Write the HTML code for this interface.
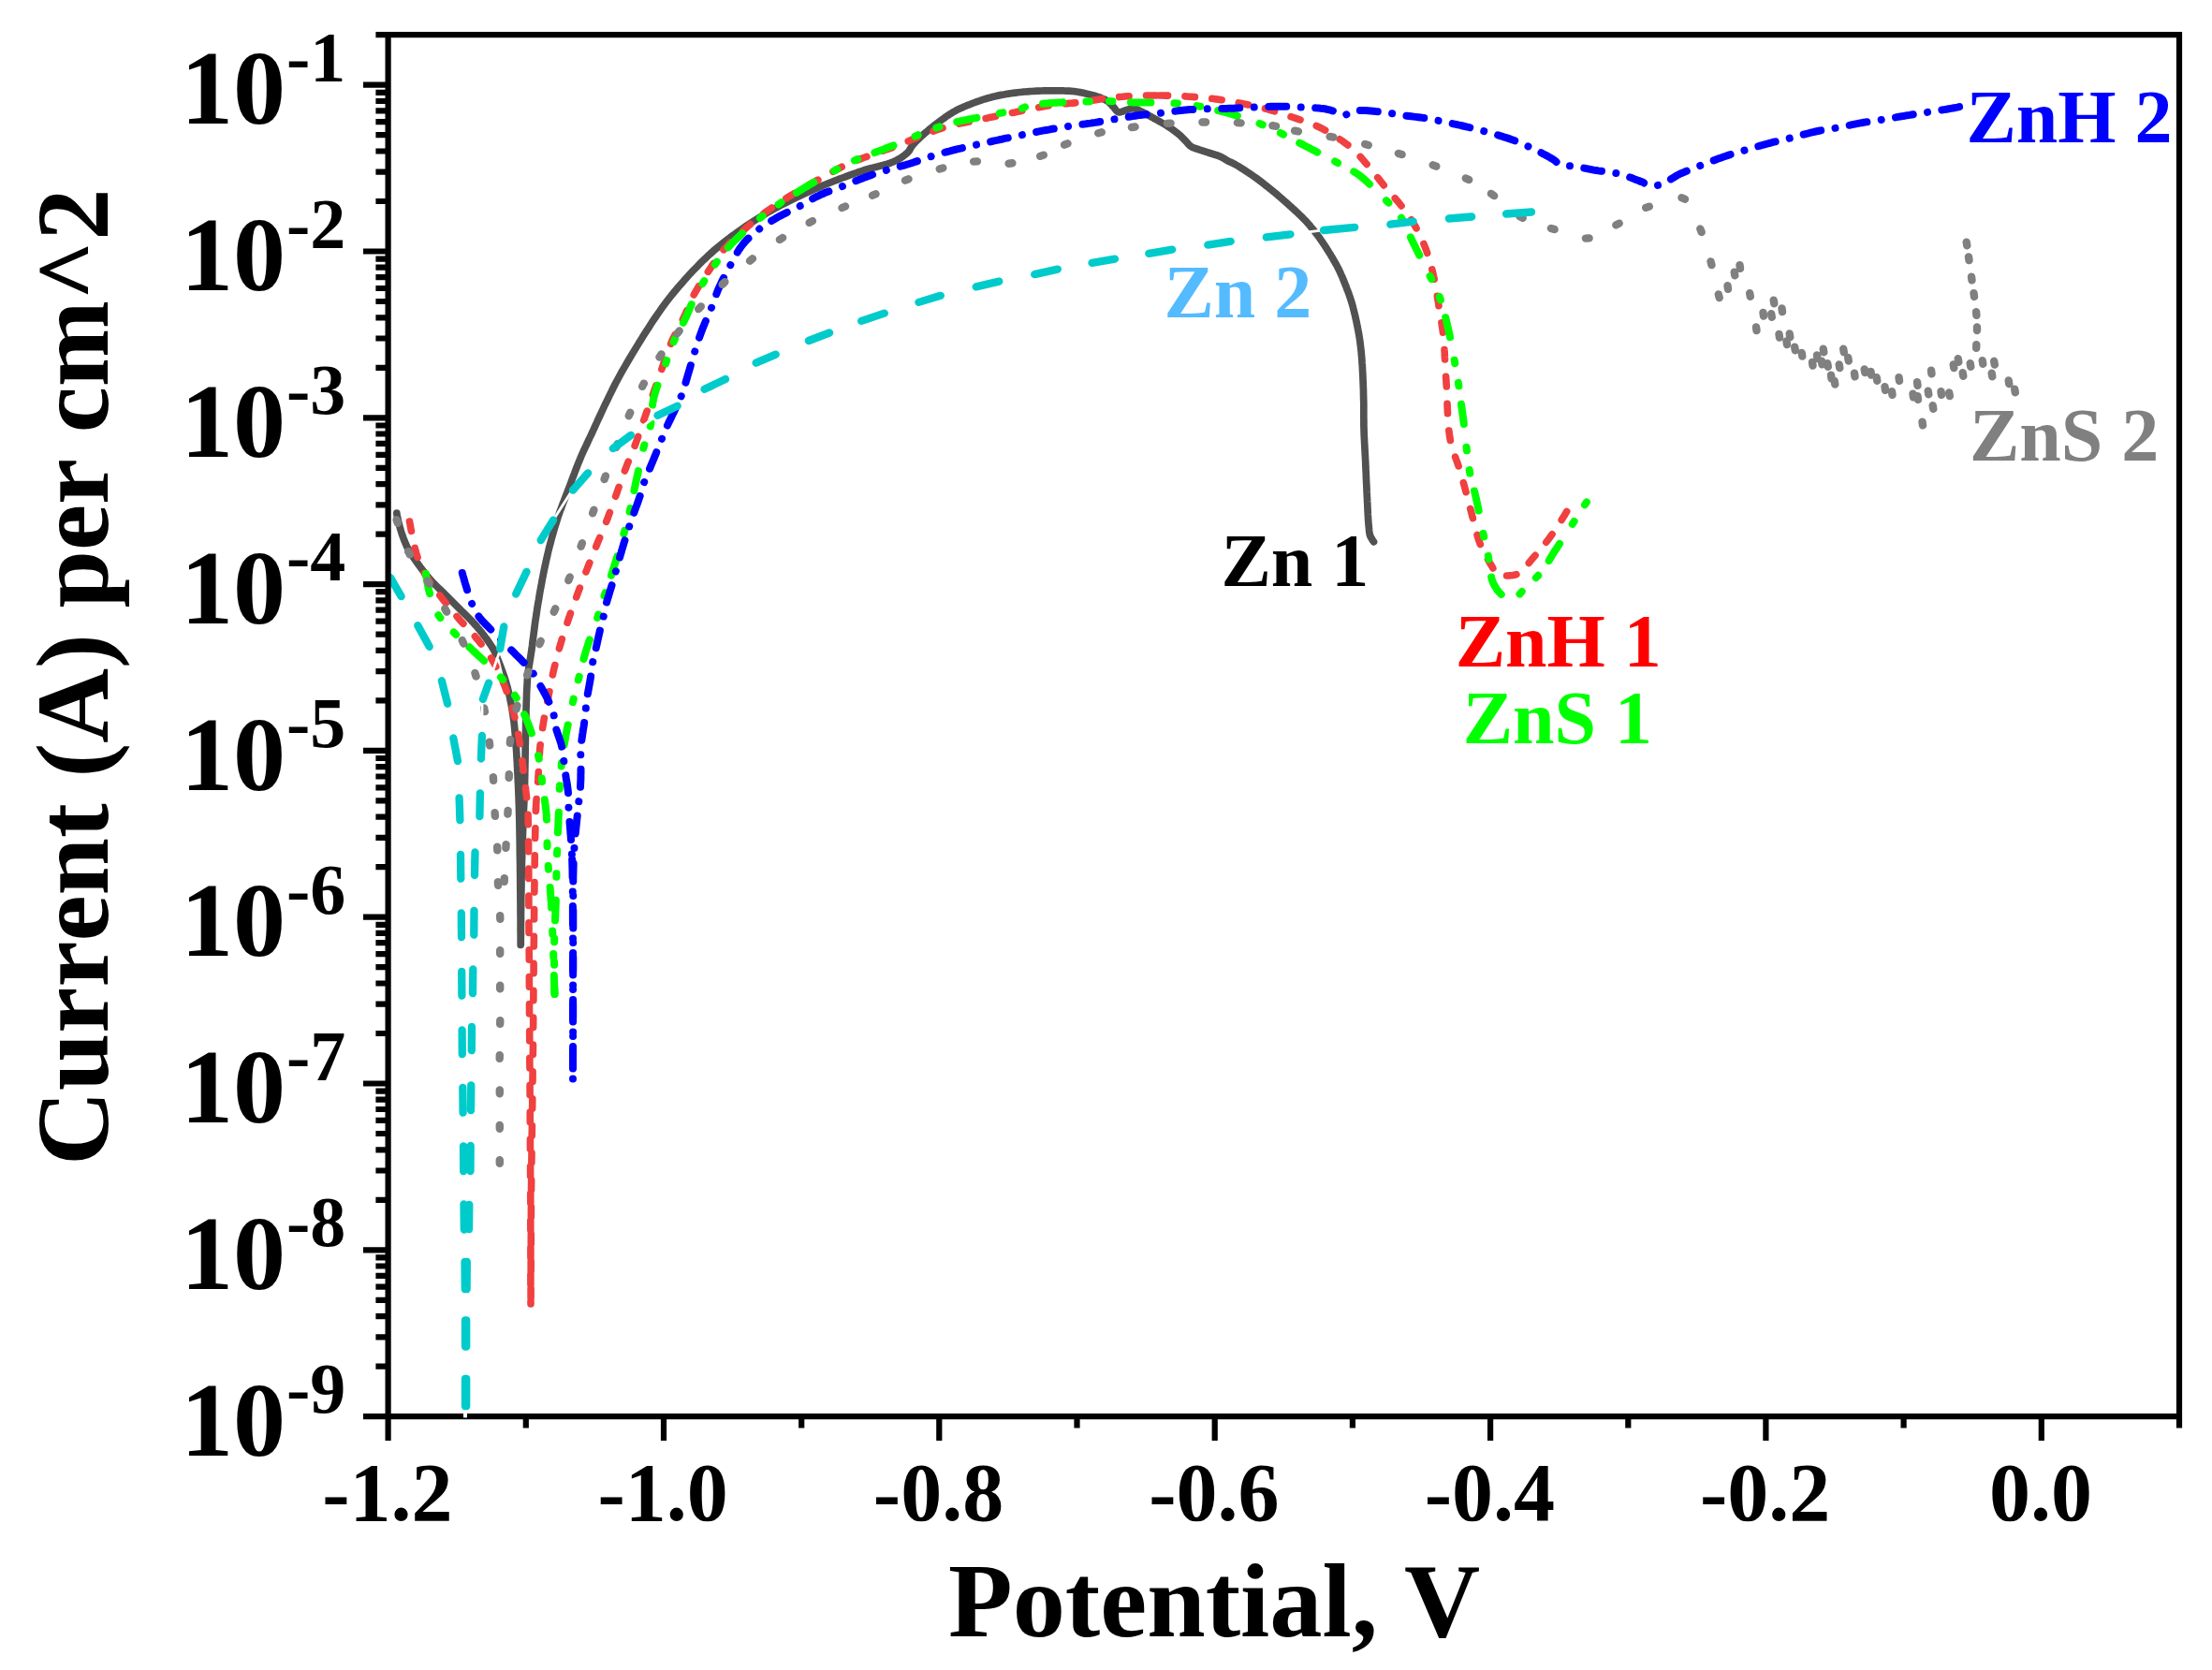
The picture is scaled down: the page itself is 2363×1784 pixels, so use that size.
<!DOCTYPE html>
<html><head><meta charset="utf-8"><title>Polarization curves</title>
<style>html,body{margin:0;padding:0;background:#fff;overflow:hidden}svg{display:block}text{font-kerning:none;font-variant-ligatures:none}</style></head>
<body>
<svg width="2363" height="1784" viewBox="0 0 2363 1784">
<rect width="2363" height="1784" fill="#fff"/>
<g id="curves">
<path d="M423.8,548.2 L423.8,548.6 L424.0,549.4 L424.2,550.7 L424.6,552.3 L425.0,554.3 L425.4,556.3 L425.9,558.5 L426.5,560.6 L427.0,562.7 L427.5,564.5 L428.1,566.4 L428.7,568.4 L429.4,570.4 L430.1,572.5 L430.8,574.5 L431.6,576.6 L432.4,578.6 L433.2,580.6 L434.1,582.6 L435.0,584.5 L436.0,586.3 L437.0,588.2 L438.0,589.9 L439.1,591.7 L440.3,593.4 L441.4,595.1 L442.6,596.9 L443.8,598.6 L445.0,600.3 L446.2,602.0 L447.5,603.8 L448.8,605.6 L450.2,607.4 L451.5,609.1 L452.9,610.9 L454.3,612.7 L455.7,614.4 L457.1,616.1 L458.5,617.8 L460.0,619.5 L461.4,621.1 L462.9,622.6 L464.4,624.2 L465.9,625.6 L467.4,627.1 L468.9,628.6 L470.5,630.1 L472.0,631.5 L473.5,633.0 L475.0,634.5 L476.5,636.0 L478.0,637.5 L479.5,639.0 L481.0,640.5 L482.5,642.0 L484.0,643.5 L485.5,645.0 L487.0,646.5 L488.5,648.0 L490.0,649.5 L491.5,651.0 L493.0,652.5 L494.6,654.0 L496.1,655.5 L497.6,657.0 L499.1,658.5 L500.6,660.0 L502.1,661.5 L503.6,663.0 L505.0,664.5 L506.3,666.0 L507.7,667.5 L509.0,668.9 L510.2,670.4 L511.5,671.9 L512.7,673.4 L514.0,674.9 L515.2,676.5 L516.3,678.0 L517.5,679.5 L518.6,681.0 L519.7,682.5 L520.8,683.9 L521.8,685.4 L522.8,686.9 L523.8,688.4 L524.8,689.9 L525.8,691.4 L526.7,693.0 L527.5,694.5 L528.3,696.0 L529.0,697.4 L529.6,698.9 L530.2,700.4 L530.8,701.9 L531.4,703.4 L532.0,704.9 L532.6,706.4 L533.2,707.9 L533.8,709.5 L534.4,711.2 L535.1,712.9 L535.7,714.6 L536.4,716.3 L537.0,718.1 L537.6,719.8 L538.2,721.6 L538.9,723.4 L539.4,725.2 L540.0,727.0 L540.6,728.9 L541.1,730.9 L541.7,732.8 L542.2,734.8 L542.7,736.8 L543.2,738.8 L543.7,740.8 L544.1,742.9 L544.6,744.9 L545.0,747.0 L545.4,749.2 L545.9,751.4 L546.3,753.6 L546.7,755.8 L547.1,758.0 L547.4,760.3 L547.8,762.5 L548.1,764.8 L548.4,767.1 L548.8,769.5 L549.1,772.1 L549.4,774.8 L549.7,777.5 L549.9,780.2 L550.2,783.0 L550.4,785.8 L550.6,788.6 L550.8,791.4 L551.0,794.2 L551.2,797.0 L551.5,799.9 L551.7,802.9 L551.9,805.8 L552.0,808.8 L552.2,811.7 L552.4,814.7 L552.5,817.7 L552.7,820.8 L552.8,823.9 L553.0,827.0 L553.2,830.5 L553.3,834.0 L553.5,837.6 L553.7,841.2 L553.8,844.8 L554.0,848.5 L554.1,852.2 L554.2,856.0 L554.4,860.0 L554.5,864.0 L554.6,869.1 L554.8,874.5 L554.9,880.0 L555.0,885.7 L555.1,891.5 L555.2,897.3 L555.3,903.1 L555.3,908.8 L555.4,914.5 L555.5,920.0 L555.6,925.1 L555.6,930.3 L555.7,935.4 L555.7,940.5 L555.8,945.5 L555.8,950.6 L555.9,955.5 L555.9,960.4 L556.0,965.3 L556.0,970.0 L556.0,974.5 L556.1,979.5 L556.1,984.7 L556.1,989.9 L556.1,995.0 L556.2,999.6 L556.2,1003.6 L556.2,1006.7 L556.2,1008.8 L556.2,1009.5 L556.3,1008.8 L556.3,1006.7 L556.3,1003.6 L556.4,999.6 L556.4,995.0 L556.4,989.9 L556.5,984.7 L556.5,979.5 L556.5,974.5 L556.6,970.0 L556.7,965.3 L556.7,960.4 L556.8,955.5 L556.9,950.6 L557.0,945.5 L557.0,940.5 L557.1,935.4 L557.2,930.3 L557.4,925.1 L557.5,920.0 L557.7,914.4 L557.8,908.5 L558.0,902.4 L558.3,896.3 L558.5,890.2 L558.7,884.2 L558.9,878.5 L559.1,873.2 L559.3,868.3 L559.5,864.0 L559.6,861.9 L559.7,860.1 L559.8,858.5 L559.8,856.9 L559.9,855.4 L560.0,854.0 L560.1,852.4 L560.2,850.8 L560.2,849.0 L560.3,847.0 L560.4,843.0 L560.5,838.6 L560.6,833.7 L560.7,828.6 L560.8,823.2 L560.9,817.7 L561.0,812.3 L561.1,807.0 L561.2,801.8 L561.2,797.0 L561.3,793.0 L561.4,789.2 L561.4,785.4 L561.5,781.6 L561.6,777.9 L561.6,774.2 L561.7,770.6 L561.8,766.9 L561.9,763.2 L562.0,759.5 L562.1,755.7 L562.2,751.9 L562.4,748.0 L562.5,744.1 L562.6,740.3 L562.8,736.4 L563.0,732.7 L563.2,729.0 L563.4,725.4 L563.8,722.0 L564.0,719.3 L564.4,716.7 L564.7,714.3 L565.1,711.9 L565.5,709.5 L565.9,707.1 L566.3,704.7 L566.7,702.2 L567.1,699.7 L567.5,697.0 L568.0,693.6 L568.5,690.0 L568.9,686.3 L569.4,682.5 L569.9,678.7 L570.4,674.9 L570.9,671.0 L571.4,667.1 L571.9,663.3 L572.5,659.5 L573.1,655.7 L573.6,652.0 L574.2,648.2 L574.8,644.4 L575.5,640.7 L576.1,636.9 L576.7,633.1 L577.4,629.4 L578.1,625.7 L578.8,622.0 L579.4,618.4 L580.1,614.9 L580.8,611.4 L581.5,607.9 L582.3,604.4 L583.0,600.9 L583.8,597.4 L584.6,594.0 L585.4,590.5 L586.2,587.0 L587.1,583.5 L588.1,579.9 L589.0,576.4 L590.0,572.8 L591.0,569.3 L592.0,565.8 L593.0,562.3 L594.1,558.8 L595.2,555.4 L596.2,552.0 L597.3,548.9 L598.4,545.8 L599.5,542.8 L600.6,539.9 L601.7,536.9 L602.9,534.0 L604.0,531.0 L605.2,528.0 L606.3,525.0 L607.5,522.0 L608.7,518.8 L609.9,515.6 L611.1,512.3 L612.3,509.1 L613.6,505.8 L614.8,502.5 L616.1,499.3 L617.3,496.0 L618.7,492.7 L620.0,489.5 L621.4,486.1 L623.0,482.7 L624.6,479.1 L626.3,475.6 L627.9,472.1 L629.5,468.6 L631.1,465.4 L632.5,462.3 L633.8,459.5 L635.0,457.0 L635.5,455.8 L636.0,454.7 L636.4,453.8 L636.8,452.9 L637.2,452.1 L637.6,451.2 L638.0,450.3 L638.4,449.3 L638.9,448.2 L639.5,447.0 L640.9,444.0 L642.6,440.4 L644.4,436.5 L646.4,432.2 L648.6,427.8 L650.8,423.1 L653.1,418.5 L655.4,413.8 L657.7,409.3 L660.0,405.0 L662.3,400.7 L664.7,396.4 L667.2,392.1 L669.7,387.8 L672.2,383.5 L674.7,379.2 L677.3,375.0 L679.9,370.8 L682.4,366.6 L685.0,362.5 L687.4,358.6 L689.9,354.7 L692.4,350.9 L694.8,347.0 L697.3,343.2 L699.8,339.5 L702.3,335.8 L704.9,332.1 L707.4,328.5 L710.0,325.0 L712.4,321.8 L714.9,318.6 L717.3,315.5 L719.8,312.5 L722.3,309.5 L724.8,306.5 L727.4,303.6 L729.9,300.7 L732.4,297.8 L735.0,295.0 L737.4,292.3 L739.9,289.7 L742.4,287.1 L744.9,284.6 L747.3,282.0 L749.8,279.5 L752.4,277.1 L754.9,274.7 L757.4,272.3 L760.0,270.0 L762.4,267.8 L764.9,265.7 L767.3,263.7 L769.8,261.7 L772.2,259.7 L774.7,257.7 L777.2,255.8 L779.8,253.9 L782.4,251.9 L785.0,250.0 L787.9,247.9 L790.8,245.9 L793.7,243.8 L796.7,241.7 L799.7,239.7 L802.8,237.7 L805.8,235.7 L808.9,233.8 L811.9,231.9 L815.0,230.0 L818.0,228.2 L820.9,226.5 L823.9,224.8 L826.9,223.2 L829.9,221.5 L832.9,219.9 L835.9,218.4 L839.0,216.8 L842.0,215.3 L845.0,213.8 L848.0,212.3 L851.0,210.8 L854.0,209.4 L857.1,208.0 L860.1,206.6 L863.2,205.2 L866.2,203.8 L869.1,202.5 L872.1,201.3 L875.0,200.0 L877.6,198.9 L880.1,197.8 L882.6,196.8 L885.1,195.8 L887.6,194.8 L890.1,193.8 L892.5,192.8 L895.0,191.9 L897.5,190.9 L900.0,190.0 L902.5,189.1 L905.0,188.1 L907.5,187.2 L910.0,186.3 L912.5,185.4 L915.0,184.6 L917.5,183.7 L920.0,182.9 L922.5,182.0 L925.0,181.2 L927.5,180.5 L930.2,179.8 L932.8,179.1 L935.5,178.4 L938.2,177.8 L940.8,177.1 L943.3,176.5 L945.7,175.8 L948.0,175.2 L950.0,174.5 L951.2,174.1 L952.3,173.6 L953.4,173.2 L954.4,172.8 L955.3,172.4 L956.3,172.0 L957.2,171.5 L958.1,171.1 L959.0,170.5 L960.0,170.0 L961.0,169.4 L962.1,168.7 L963.2,168.0 L964.3,167.3 L965.3,166.5 L966.4,165.7 L967.3,164.9 L968.3,164.1 L969.2,163.3 L970.0,162.5 L970.6,161.8 L971.2,161.1 L971.7,160.3 L972.1,159.6 L972.5,158.8 L973.0,158.1 L973.4,157.3 L973.9,156.5 L974.4,155.8 L975.0,155.0 L975.8,154.0 L976.7,153.1 L977.6,152.1 L978.6,151.1 L979.6,150.1 L980.6,149.1 L981.7,148.1 L982.8,147.0 L983.9,146.0 L985.0,145.0 L986.3,143.8 L987.7,142.5 L989.2,141.3 L990.6,140.1 L992.1,138.8 L993.6,137.5 L995.2,136.3 L996.8,135.0 L998.4,133.7 L1000.0,132.5 L1001.9,131.1 L1003.8,129.7 L1005.7,128.2 L1007.7,126.8 L1009.7,125.3 L1011.8,123.9 L1013.8,122.5 L1015.9,121.2 L1017.9,119.9 L1020.0,118.8 L1022.0,117.7 L1023.9,116.7 L1025.9,115.8 L1027.8,114.9 L1029.8,114.0 L1031.8,113.2 L1033.8,112.3 L1035.9,111.6 L1037.9,110.8 L1040.0,110.0 L1042.2,109.2 L1044.4,108.4 L1046.6,107.7 L1048.8,106.9 L1051.0,106.2 L1053.3,105.5 L1055.6,104.8 L1057.9,104.2 L1060.2,103.6 L1062.5,103.0 L1064.9,102.4 L1067.4,101.9 L1069.9,101.4 L1072.4,101.0 L1074.9,100.5 L1077.4,100.1 L1079.9,99.7 L1082.5,99.4 L1085.0,99.1 L1087.5,98.8 L1090.0,98.5 L1092.5,98.2 L1095.0,98.0 L1097.5,97.8 L1100.0,97.6 L1102.5,97.5 L1105.0,97.3 L1107.5,97.2 L1110.0,97.1 L1112.5,97.0 L1115.0,96.9 L1117.6,96.9 L1120.3,96.8 L1122.9,96.8 L1125.5,96.8 L1128.1,96.8 L1130.6,96.8 L1133.1,96.9 L1135.3,96.9 L1137.5,97.0 L1138.9,97.1 L1140.2,97.1 L1141.5,97.2 L1142.7,97.2 L1143.8,97.3 L1145.0,97.4 L1146.2,97.5 L1147.4,97.6 L1148.7,97.8 L1150.0,98.0 L1151.8,98.3 L1153.8,98.6 L1155.8,99.0 L1157.9,99.4 L1160.0,99.9 L1162.1,100.4 L1164.2,100.9 L1166.2,101.4 L1168.2,101.9 L1170.0,102.5 L1171.5,103.0 L1172.9,103.4 L1174.3,103.9 L1175.7,104.4 L1177.1,105.0 L1178.4,105.5 L1179.6,106.1 L1180.8,106.6 L1182.0,107.3 L1183.0,107.9 L1183.7,108.4 L1184.4,109.0 L1185.1,109.5 L1185.7,110.1 L1186.2,110.7 L1186.8,111.3 L1187.3,111.9 L1187.9,112.5 L1188.4,113.2 L1189.0,113.8 L1189.6,114.4 L1190.2,115.1 L1190.7,115.8 L1191.3,116.6 L1191.8,117.3 L1192.4,118.0 L1193.0,118.6 L1193.6,119.1 L1194.2,119.5 L1194.9,119.8 L1195.5,119.9 L1196.2,119.9 L1196.9,119.8 L1197.6,119.6 L1198.3,119.4 L1199.0,119.1 L1199.8,118.8 L1200.5,118.5 L1201.3,118.2 L1202.0,118.0 L1202.8,117.8 L1203.7,117.5 L1204.6,117.2 L1205.5,116.9 L1206.3,116.6 L1207.2,116.3 L1208.1,116.1 L1209.0,115.9 L1209.9,115.8 L1210.8,115.8 L1211.7,115.9 L1212.6,116.1 L1213.6,116.4 L1214.5,116.8 L1215.4,117.2 L1216.3,117.6 L1217.2,118.1 L1218.2,118.6 L1219.1,119.1 L1220.0,119.5 L1221.0,120.0 L1221.9,120.5 L1222.9,121.0 L1223.9,121.5 L1224.9,122.0 L1225.8,122.6 L1226.8,123.1 L1227.8,123.7 L1228.8,124.3 L1229.8,124.8 L1230.8,125.4 L1231.8,125.9 L1232.8,126.5 L1233.9,127.1 L1234.9,127.6 L1236.0,128.2 L1237.0,128.8 L1238.0,129.4 L1239.0,129.9 L1240.0,130.5 L1240.9,131.0 L1241.8,131.5 L1242.6,132.0 L1243.5,132.5 L1244.4,133.0 L1245.2,133.5 L1246.1,134.0 L1246.9,134.6 L1247.8,135.1 L1248.7,135.7 L1249.8,136.4 L1250.9,137.2 L1252.0,138.0 L1253.2,138.8 L1254.3,139.6 L1255.4,140.4 L1256.5,141.3 L1257.6,142.1 L1258.6,142.9 L1259.6,143.7 L1260.3,144.3 L1261.0,145.0 L1261.7,145.6 L1262.3,146.2 L1262.9,146.9 L1263.5,147.5 L1264.2,148.1 L1264.8,148.7 L1265.4,149.4 L1266.0,150.0 L1266.6,150.7 L1267.3,151.4 L1267.9,152.1 L1268.5,152.8 L1269.1,153.5 L1269.8,154.2 L1270.4,154.9 L1271.1,155.5 L1271.8,156.1 L1272.5,156.6 L1273.2,157.0 L1273.9,157.4 L1274.6,157.7 L1275.4,158.0 L1276.1,158.3 L1276.9,158.5 L1277.6,158.7 L1278.4,159.0 L1279.2,159.2 L1280.0,159.5 L1280.9,159.8 L1281.8,160.1 L1282.7,160.4 L1283.6,160.7 L1284.5,161.0 L1285.5,161.3 L1286.5,161.6 L1287.4,161.9 L1288.5,162.3 L1289.5,162.6 L1290.9,163.0 L1292.4,163.5 L1293.9,164.0 L1295.5,164.5 L1297.1,165.0 L1298.7,165.5 L1300.3,166.0 L1301.8,166.5 L1303.2,167.1 L1304.4,167.6 L1305.2,168.0 L1305.9,168.4 L1306.6,168.8 L1307.2,169.1 L1307.8,169.5 L1308.4,169.9 L1309.1,170.3 L1309.7,170.7 L1310.3,171.1 L1311.0,171.5 L1311.8,171.9 L1312.5,172.3 L1313.3,172.6 L1314.1,173.0 L1314.9,173.3 L1315.7,173.7 L1316.5,174.1 L1317.4,174.5 L1318.3,175.0 L1319.3,175.5 L1321.0,176.5 L1322.8,177.5 L1324.7,178.7 L1326.7,180.0 L1328.8,181.3 L1330.9,182.7 L1333.0,184.1 L1335.1,185.5 L1337.2,186.9 L1339.2,188.3 L1341.2,189.7 L1343.2,191.2 L1345.2,192.7 L1347.2,194.2 L1349.2,195.7 L1351.2,197.3 L1353.2,198.8 L1355.2,200.4 L1357.1,202.0 L1359.1,203.6 L1361.1,205.3 L1363.2,206.9 L1365.2,208.7 L1367.2,210.4 L1369.2,212.1 L1371.2,213.9 L1373.2,215.6 L1375.2,217.4 L1377.1,219.1 L1379.0,220.8 L1380.7,222.4 L1382.4,223.9 L1384.0,225.4 L1385.7,226.9 L1387.3,228.5 L1388.9,230.0 L1390.5,231.5 L1392.0,233.1 L1393.5,234.6 L1395.0,236.2 L1396.4,237.7 L1397.8,239.3 L1399.1,240.8 L1400.4,242.4 L1401.7,243.9 L1403.0,245.5 L1404.3,247.1 L1405.5,248.7 L1406.8,250.3 L1408.0,252.0 L1409.3,253.7 L1410.5,255.5 L1411.8,257.3 L1413.0,259.1 L1414.2,260.9 L1415.4,262.7 L1416.6,264.5 L1417.7,266.4 L1418.9,268.2 L1420.0,270.0 L1421.1,271.7 L1422.1,273.5 L1423.2,275.2 L1424.2,277.0 L1425.2,278.7 L1426.2,280.5 L1427.2,282.2 L1428.2,284.0 L1429.1,285.7 L1430.0,287.5 L1430.8,289.2 L1431.7,291.0 L1432.4,292.7 L1433.2,294.5 L1434.0,296.2 L1434.7,298.0 L1435.4,299.7 L1436.1,301.5 L1436.8,303.2 L1437.5,305.0 L1438.2,306.7 L1438.8,308.5 L1439.5,310.2 L1440.2,311.9 L1440.8,313.6 L1441.4,315.4 L1442.0,317.1 L1442.6,318.9 L1443.2,320.7 L1443.8,322.5 L1444.3,324.4 L1444.9,326.4 L1445.4,328.4 L1445.9,330.4 L1446.4,332.4 L1446.9,334.4 L1447.4,336.4 L1447.9,338.5 L1448.3,340.5 L1448.8,342.5 L1449.2,344.5 L1449.6,346.5 L1450.0,348.5 L1450.4,350.5 L1450.8,352.6 L1451.2,354.6 L1451.5,356.6 L1451.9,358.6 L1452.2,360.5 L1452.5,362.5 L1452.8,364.3 L1453.0,366.0 L1453.2,367.7 L1453.4,369.4 L1453.6,371.1 L1453.8,372.8 L1454.0,374.6 L1454.2,376.3 L1454.3,378.1 L1454.5,380.0 L1454.7,382.3 L1454.9,384.7 L1455.0,387.2 L1455.2,389.7 L1455.4,392.2 L1455.5,394.8 L1455.6,397.4 L1455.8,399.9 L1455.9,402.5 L1456.0,405.0 L1456.1,407.5 L1456.2,410.0 L1456.3,412.5 L1456.4,414.9 L1456.5,417.4 L1456.5,419.9 L1456.6,422.4 L1456.6,424.9 L1456.7,427.5 L1456.8,430.0 L1456.8,432.7 L1456.8,435.3 L1456.8,438.0 L1456.8,440.7 L1456.8,443.4 L1456.8,446.1 L1456.9,448.9 L1456.9,451.7 L1456.9,454.6 L1457.0,457.5 L1457.1,461.0 L1457.2,464.6 L1457.4,468.3 L1457.6,472.1 L1457.8,475.9 L1458.0,479.7 L1458.2,483.6 L1458.4,487.4 L1458.6,491.2 L1458.8,495.0 L1458.9,498.8 L1459.1,502.6 L1459.3,506.4 L1459.4,510.3 L1459.6,514.1 L1459.8,517.9 L1460.0,521.7 L1460.1,525.4 L1460.3,529.0 L1460.5,532.5 L1460.6,535.5 L1460.8,538.4 L1460.9,541.4 L1461.0,544.3 L1461.2,547.2 L1461.3,550.0 L1461.5,552.7 L1461.6,555.3 L1461.8,557.7 L1462.0,560.0 L1462.1,561.5 L1462.3,562.9 L1462.4,564.3 L1462.5,565.6 L1462.6,566.9 L1462.8,568.1 L1462.9,569.3 L1463.2,570.4 L1463.4,571.5 L1463.8,572.5 L1464.1,573.3 L1464.5,574.1 L1465.0,575.0 L1465.5,575.8 L1466.0,576.6 L1466.4,577.3 L1466.9,577.9 L1467.2,578.3 L1467.4,578.6 L1467.5,578.8" fill="none" stroke="#515151" stroke-width="7.7" stroke-linecap="round" stroke-linejoin="round"/>
<path d="M527.9,702.4 L533.4,703.9 L536.9,718.5 L541.3,735.2 L539.2,735.8 L528.8,708.7Z" fill="#fff"/>
<path d="M437.5,557.0 L437.6,557.7 L438.0,559.7 L438.5,562.7 L439.2,566.4 L440.1,570.7 L441.0,575.3 L442.0,580.0 L443.0,584.5 L444.0,588.6 L445.0,592.0 L445.7,594.3 L446.5,596.6 L447.2,598.7 L448.0,600.8 L448.8,602.8 L449.7,604.8 L450.6,606.8 L451.6,608.8 L452.6,610.9 L453.8,613.0 L455.3,615.6 L456.9,618.3 L458.7,620.9 L460.6,623.7 L462.5,626.4 L464.5,629.1 L466.6,631.8 L468.6,634.4 L470.6,637.0 L472.5,639.5 L474.2,641.7 L476.0,643.9 L477.7,646.1 L479.4,648.2 L481.1,650.3 L482.9,652.4 L484.6,654.5 L486.4,656.5 L488.2,658.6 L490.0,660.8 L491.9,663.0 L493.9,665.2 L496.0,667.4 L498.0,669.6 L500.1,671.8 L502.1,674.0 L504.2,676.2 L506.2,678.5 L508.1,680.7 L510.0,683.0 L511.8,685.2 L513.5,687.4 L515.2,689.6 L516.9,691.9 L518.6,694.1 L520.2,696.4 L521.8,698.7 L523.3,701.0 L524.8,703.3 L526.2,705.8 L527.7,708.2 L529.1,710.8 L530.4,713.3 L531.7,715.9 L532.9,718.5 L534.2,721.2 L535.3,723.8 L536.5,726.5 L537.6,729.3 L538.8,732.0 L539.9,734.9 L541.0,737.8 L542.1,740.8 L543.1,743.8 L544.2,746.8 L545.2,749.8 L546.1,752.9 L547.0,755.9 L547.9,759.0 L548.8,762.0 L549.5,765.0 L550.3,768.0 L551.0,771.0 L551.6,774.0 L552.2,777.0 L552.8,780.1 L553.4,783.1 L554.0,786.1 L554.5,789.0 L555.0,792.0 L555.5,794.8 L555.9,797.6 L556.3,800.3 L556.7,803.1 L557.0,805.8 L557.4,808.5 L557.7,811.3 L558.1,814.0 L558.4,816.8 L558.8,819.5 L559.1,822.3 L559.5,825.1 L559.8,828.0 L560.1,830.8 L560.5,833.7 L560.8,836.5 L561.1,839.2 L561.4,841.9 L561.7,844.5 L562.0,847.0 L562.2,848.8 L562.4,850.4 L562.6,851.9 L562.8,853.3 L563.0,854.8 L563.1,856.3 L563.3,857.9 L563.5,859.7 L563.6,861.7 L563.8,864.0 L564.1,871.8 L564.3,881.6 L564.5,893.0 L564.6,905.7 L564.7,919.3 L564.8,933.5 L564.8,947.9 L564.9,962.2 L564.9,976.0 L565.0,989.0 L565.1,1001.4 L565.2,1013.7 L565.3,1025.9 L565.3,1038.1 L565.4,1050.4 L565.5,1062.7 L565.5,1075.2 L565.6,1087.8 L565.7,1100.8 L565.8,1114.0 L565.8,1129.9 L566.0,1146.4 L566.1,1163.4 L566.2,1180.7 L566.3,1198.1 L566.4,1215.4 L566.5,1232.6 L566.6,1249.3 L566.7,1265.5 L566.8,1281.0 L566.8,1294.1 L566.8,1308.4 L566.9,1323.3 L566.9,1338.2 L566.9,1352.4 L566.9,1365.4 L566.9,1376.6 L566.9,1385.3 L567.0,1391.0 L567.0,1393.0" fill="none" stroke="#f04040" stroke-width="7.6" stroke-linecap="round" stroke-linejoin="round" stroke-dasharray="10.5 18.4" stroke-dashoffset="0.00"/>
<path d="M567.0,1393.0 L567.0,1391.0 L567.1,1385.3 L567.1,1376.6 L567.1,1365.4 L567.2,1352.4 L567.2,1338.2 L567.3,1323.3 L567.3,1308.4 L567.4,1294.1 L567.5,1281.0 L567.6,1265.5 L567.8,1249.3 L568.0,1232.6 L568.2,1215.4 L568.5,1198.1 L568.7,1180.7 L568.9,1163.4 L569.1,1146.4 L569.3,1129.9 L569.5,1114.0 L569.6,1100.8 L569.7,1087.8 L569.8,1075.2 L569.9,1062.7 L570.0,1050.4 L570.1,1038.1 L570.1,1025.9 L570.2,1013.7 L570.4,1001.4 L570.5,989.0 L570.6,976.1 L570.8,962.8 L570.9,949.0 L571.1,935.3 L571.2,921.6 L571.4,908.4 L571.6,895.8 L571.9,884.0 L572.1,873.3 L572.5,864.0" fill="none" stroke="#f04040" stroke-width="7.6" stroke-linecap="round" stroke-linejoin="round" stroke-dasharray="10.5 18.4" stroke-dashoffset="22.46"/>
<path d="M572.5,864.0 L572.7,859.7 L572.9,855.7 L573.2,852.0 L573.4,848.6 L573.7,845.3 L574.0,842.2 L574.3,839.1 L574.5,836.0 L574.8,832.8 L575.0,829.5 L575.2,826.2 L575.4,822.9 L575.6,819.5 L575.7,816.2 L575.9,812.9 L576.1,809.6 L576.3,806.4 L576.5,803.2 L576.7,800.1 L577.0,797.0 L577.3,794.4 L577.6,791.8 L577.9,789.3 L578.2,786.9 L578.5,784.4 L578.9,782.0 L579.3,779.6 L579.7,777.1 L580.1,774.6 L580.5,772.0 L581.0,769.1 L581.5,766.1 L582.1,763.1 L582.7,760.1 L583.3,757.0 L583.9,753.9 L584.5,750.9 L585.1,747.9 L585.7,744.9 L586.2,742.0 L586.8,739.4 L587.2,736.9 L587.7,734.4 L588.2,731.9 L588.6,729.5 L589.1,727.0 L589.6,724.6 L590.1,722.1 L590.7,719.6 L591.2,717.0 L591.9,714.2 L592.6,711.3 L593.3,708.4 L594.0,705.5 L594.8,702.6 L595.5,699.6 L596.3,696.7 L597.1,693.8 L597.9,690.9 L598.8,688.0 L599.6,685.2 L600.4,682.5 L601.2,679.7 L602.1,677.0 L603.0,674.3 L603.9,671.6 L604.8,668.9 L605.7,666.2 L606.6,663.5 L607.5,660.8 L608.5,658.0 L609.4,655.2 L610.4,652.4 L611.4,649.6 L612.4,646.8 L613.4,644.0 L614.4,641.3 L615.5,638.5 L616.5,635.7 L617.5,633.0 L618.5,630.4 L619.5,627.7 L620.5,625.1 L621.5,622.5 L622.5,619.9 L623.5,617.3 L624.5,614.7 L625.5,612.1 L626.5,609.6 L627.5,607.0 L628.5,604.5 L629.5,602.0 L630.5,599.5 L631.5,597.0 L632.4,594.5 L633.4,592.1 L634.4,589.6 L635.5,587.1 L636.5,584.5 L637.5,582.0 L638.6,579.3 L639.7,576.6 L640.9,573.8 L642.0,571.1 L643.2,568.3 L644.3,565.6 L645.4,562.8 L646.6,560.0 L647.7,557.3 L648.8,554.5 L649.8,551.8 L650.8,549.0 L651.8,546.3 L652.8,543.5 L653.8,540.8 L654.8,538.0 L655.8,535.3 L656.8,532.5 L657.8,529.8 L658.8,527.0 L659.7,524.2 L660.7,521.5 L661.7,518.7 L662.7,515.9 L663.7,513.2 L664.7,510.4 L665.7,507.6 L666.7,504.9 L667.7,502.2 L668.8,499.5 L669.7,496.9 L670.7,494.4 L671.8,491.9 L672.8,489.4 L673.8,486.9 L674.8,484.5 L675.8,482.0 L676.8,479.5 L677.8,477.0 L678.8,474.5 L679.7,472.0 L680.6,469.5 L681.5,467.0 L682.3,464.5 L683.2,462.0 L684.1,459.5 L684.9,457.0 L685.8,454.5 L686.6,452.0 L687.5,449.5 L688.4,447.1 L689.2,444.6 L690.1,442.2 L690.9,439.8 L691.8,437.5 L692.7,435.0 L693.6,432.6 L694.4,430.1 L695.3,427.6 L696.2,425.0 L697.3,421.9 L698.4,418.8 L699.5,415.5 L700.7,412.2 L701.8,408.9 L703.0,405.5 L704.1,402.2 L705.3,398.9 L706.4,395.7 L707.5,392.5 L708.5,389.6 L709.5,386.8 L710.4,384.0 L711.4,381.2 L712.3,378.5 L713.3,375.7 L714.3,373.0 L715.3,370.3 L716.4,367.7 L717.5,365.0 L718.6,362.4 L719.8,359.9 L721.1,357.4 L722.4,354.9 L723.7,352.4 L725.0,349.9 L726.2,347.5 L727.5,345.0 L728.8,342.5 L730.0,340.0 L731.2,337.5 L732.3,335.0 L733.4,332.5 L734.4,329.9 L735.5,327.4 L736.6,324.9 L737.7,322.4 L738.8,319.9 L740.0,317.4 L741.2,315.0 L742.5,312.7 L743.8,310.4 L745.1,308.1 L746.4,305.9 L747.8,303.7 L749.2,301.5 L750.6,299.2 L752.1,297.0 L753.5,294.8 L755.0,292.5 L756.6,290.0 L758.3,287.5 L759.9,284.9 L761.6,282.4 L763.4,279.8 L765.1,277.2 L766.9,274.7 L768.7,272.2 L770.6,269.8 L772.5,267.5 L774.4,265.3 L776.3,263.2 L778.2,261.2 L780.2,259.1 L782.2,257.2 L784.2,255.2 L786.2,253.3 L788.3,251.3 L790.4,249.4 L792.5,247.5 L794.7,245.5 L796.9,243.6 L799.1,241.6 L801.4,239.7 L803.6,237.8 L805.9,235.9 L808.2,234.0 L810.5,232.2 L812.8,230.5 L815.0,228.8 L817.0,227.2 L819.0,225.8 L821.0,224.4 L823.0,223.0 L824.9,221.6 L826.9,220.3 L828.9,219.0 L830.9,217.7 L832.9,216.3 L835.0,215.0 L837.2,213.6 L839.4,212.2 L841.6,210.8 L843.8,209.4 L846.1,208.1 L848.3,206.7 L850.6,205.3 L852.9,204.0 L855.2,202.6 L857.5,201.2 L859.9,199.8 L862.4,198.4 L864.9,197.0 L867.4,195.7 L870.0,194.3 L872.5,192.9 L875.0,191.5 L877.6,190.2 L880.0,188.8 L882.5,187.5 L884.8,186.3 L887.0,185.0 L889.2,183.8 L891.4,182.5 L893.6,181.3 L895.8,180.1 L898.1,178.9 L900.3,177.7 L902.6,176.6 L905.0,175.5 L907.6,174.3 L910.3,173.2 L913.0,172.2 L915.7,171.1 L918.5,170.1 L921.3,169.0 L924.1,168.0 L926.9,167.0 L929.7,166.0 L932.5,165.0 L935.2,164.0 L938.0,163.0 L940.8,162.0 L943.5,161.0 L946.3,160.0 L949.0,159.1 L951.8,158.1 L954.5,157.1 L957.3,156.0 L960.0,155.0 L962.8,153.9 L965.5,152.8 L968.3,151.6 L971.1,150.5 L973.8,149.3 L976.6,148.2 L979.3,147.0 L982.1,145.9 L984.8,144.8 L987.5,143.8 L990.0,142.8 L992.6,141.8 L995.1,140.9 L997.6,140.0 L1000.1,139.0 L1002.6,138.2 L1005.1,137.3 L1007.6,136.5 L1010.0,135.7 L1012.5,135.0 L1014.8,134.4 L1017.0,133.8 L1019.2,133.3 L1021.4,132.8 L1023.7,132.3 L1025.9,131.9 L1028.1,131.4 L1030.4,131.0 L1032.7,130.5 L1035.0,130.0 L1037.6,129.5 L1040.3,128.9 L1043.0,128.4 L1045.8,127.8 L1048.6,127.3 L1051.4,126.7 L1054.2,126.2 L1057.0,125.6 L1059.7,125.1 L1062.5,124.5 L1065.3,123.9 L1068.0,123.4 L1070.8,122.8 L1073.6,122.2 L1076.3,121.6 L1079.1,121.0 L1081.8,120.4 L1084.6,119.9 L1087.3,119.3 L1090.0,118.8 L1092.6,118.2 L1095.1,117.7 L1097.7,117.1 L1100.3,116.6 L1102.8,116.1 L1105.4,115.6 L1107.9,115.1 L1110.3,114.6 L1112.7,114.2 L1115.0,113.8 L1116.9,113.4 L1118.7,113.1 L1120.4,112.9 L1122.2,112.6 L1123.9,112.4 L1125.6,112.1 L1127.3,111.9 L1129.0,111.7 L1130.7,111.5 L1132.5,111.2 L1134.4,111.0 L1136.3,110.9 L1138.3,110.7 L1140.2,110.6 L1142.2,110.4 L1144.1,110.3 L1146.2,110.1 L1148.2,109.9 L1150.3,109.7 L1152.5,109.5 L1155.3,109.1 L1158.1,108.7 L1161.1,108.3 L1164.1,107.8 L1167.2,107.3 L1170.3,106.8 L1173.4,106.3 L1176.5,105.8 L1179.5,105.4 L1182.5,105.0 L1185.3,104.7 L1188.1,104.4 L1190.8,104.1 L1193.5,103.8 L1196.3,103.5 L1199.0,103.3 L1201.7,103.0 L1204.5,102.8 L1207.2,102.7 L1210.0,102.5 L1212.8,102.4 L1215.7,102.2 L1218.6,102.2 L1221.5,102.1 L1224.3,102.0 L1227.2,102.0 L1230.1,102.0 L1233.0,102.0 L1235.9,102.0 L1238.8,102.0" fill="none" stroke="#f04040" stroke-width="7.6" stroke-linecap="round" stroke-linejoin="round" stroke-dasharray="10.5 18.4" stroke-dashoffset="28.82"/>
<path d="M1238.8,102.0 L1241.6,102.0 L1244.5,102.1 L1247.4,102.1 L1250.3,102.2 L1253.1,102.3 L1256.0,102.4 L1258.9,102.5 L1261.8,102.7 L1264.6,102.8 L1267.5,103.0 L1270.4,103.2 L1273.3,103.4 L1276.2,103.6 L1279.0,103.8 L1281.9,104.0 L1284.8,104.3 L1287.7,104.5 L1290.6,104.8 L1293.4,105.2 L1296.2,105.5 L1299.0,105.9 L1301.8,106.2 L1304.5,106.7 L1307.3,107.1 L1310.0,107.5 L1312.8,108.0 L1315.5,108.5 L1318.2,109.0 L1321.0,109.5 L1323.8,110.0 L1326.6,110.5 L1329.5,111.1 L1332.4,111.7 L1335.3,112.3 L1338.2,112.9 L1341.0,113.5 L1343.9,114.1 L1346.8,114.8 L1349.7,115.5 L1352.5,116.2 L1355.3,117.0 L1358.1,117.8 L1360.8,118.7 L1363.6,119.5 L1366.3,120.4 L1369.1,121.3 L1371.8,122.2 L1374.5,123.1 L1377.3,124.1 L1380.0,125.0 L1382.8,125.9 L1385.6,126.9 L1388.4,127.8 L1391.3,128.8 L1394.1,129.8 L1396.9,130.7 L1399.7,131.8 L1402.4,132.8 L1405.0,133.9 L1407.5,135.0 L1409.6,136.0 L1411.7,137.0 L1413.7,138.1 L1415.7,139.1 L1417.6,140.2 L1419.5,141.3 L1421.4,142.4 L1423.2,143.6 L1425.1,144.8 L1427.0,146.0 L1429.0,147.3 L1430.9,148.6 L1432.9,149.9 L1434.8,151.2 L1436.7,152.6 L1438.6,154.0 L1440.5,155.4 L1442.4,156.9 L1444.2,158.4 L1446.0,160.0 L1447.8,161.7 L1449.6,163.5 L1451.3,165.3 L1453.0,167.2 L1454.7,169.1 L1456.4,171.1 L1458.0,173.1 L1459.7,175.0 L1461.3,177.0 L1463.0,179.0 L1464.7,181.0 L1466.4,183.1 L1468.1,185.2 L1469.8,187.2 L1471.4,189.3 L1473.1,191.4 L1474.8,193.6 L1476.5,195.7 L1478.2,197.8 L1480.0,200.0 L1481.9,202.3 L1484.0,204.6 L1486.0,207.0 L1488.1,209.3 L1490.2,211.7 L1492.2,214.1 L1494.3,216.5 L1496.2,218.9 L1498.2,221.3 L1500.0,223.8 L1501.7,226.1 L1503.3,228.4 L1504.9,230.7 L1506.5,233.0 L1508.0,235.4 L1509.5,237.7 L1510.9,240.1 L1512.3,242.5 L1513.7,245.0 L1515.0,247.5 L1516.3,250.1 L1517.6,252.8 L1518.8,255.5 L1520.0,258.3 L1521.2,261.1 L1522.3,263.9 L1523.4,266.7 L1524.4,269.5 L1525.3,272.3 L1526.2,275.0 L1527.0,277.5 L1527.8,280.0 L1528.5,282.5 L1529.1,284.9 L1529.7,287.4 L1530.3,289.8 L1530.9,292.3 L1531.4,294.8 L1532.0,297.4 L1532.5,300.0 L1533.1,302.9 L1533.6,305.8 L1534.2,308.8 L1534.7,311.8 L1535.1,314.8 L1535.6,317.9 L1536.1,320.9 L1536.6,324.0 L1537.0,327.0 L1537.5,330.0 L1538.0,333.0 L1538.5,336.0 L1539.0,339.0 L1539.5,342.1 L1540.0,345.1 L1540.4,348.1 L1540.9,351.1 L1541.3,354.1 L1541.7,357.0 L1542.0,360.0 L1542.3,362.8 L1542.5,365.5 L1542.7,368.3 L1542.9,371.0 L1543.0,373.7 L1543.2,376.5 L1543.3,379.2 L1543.4,381.9 L1543.6,384.7 L1543.8,387.5 L1543.9,390.4 L1544.1,393.4 L1544.3,396.4 L1544.5,399.3 L1544.6,402.3 L1544.8,405.3 L1545.0,408.4 L1545.2,411.4 L1545.3,414.4 L1545.5,417.5 L1545.7,420.7 L1545.8,424.0 L1545.9,427.3 L1546.0,430.7 L1546.1,434.0 L1546.3,437.3 L1546.4,440.6 L1546.6,443.8 L1546.8,447.0 L1547.0,450.0 L1547.2,452.5 L1547.4,455.0 L1547.6,457.4 L1547.8,459.7 L1548.1,462.1 L1548.4,464.4 L1548.7,466.7 L1549.1,469.0 L1549.5,471.4 L1550.0,473.8 L1550.6,476.3 L1551.4,478.9 L1552.2,481.6 L1553.1,484.2 L1554.1,486.8 L1555.1,489.5 L1556.0,492.1 L1557.0,494.7 L1557.9,497.4 L1558.8,500.0 L1559.5,502.6 L1560.3,505.2 L1561.1,507.8 L1561.9,510.4 L1562.6,513.0 L1563.3,515.6 L1564.1,518.3 L1564.8,520.9 L1565.5,523.6 L1566.2,526.2 L1567.0,529.1 L1567.8,531.9 L1568.5,534.8 L1569.3,537.7 L1570.0,540.6 L1570.7,543.5 L1571.5,546.4 L1572.2,549.3 L1573.0,552.2 L1573.8,555.0 L1574.5,557.7 L1575.1,560.4 L1575.8,563.0 L1576.5,565.7 L1577.2,568.3 L1577.9,571.0 L1578.6,573.6 L1579.4,576.2 L1580.3,578.7 L1581.2,581.2 L1582.3,583.8 L1583.5,586.3 L1584.7,588.9 L1586.0,591.5 L1587.4,594.0 L1588.7,596.5 L1590.1,598.8 L1591.4,601.1 L1592.6,603.1 L1593.8,605.0 L1594.4,606.1 L1595.0,607.2 L1595.6,608.2 L1596.1,609.2 L1596.7,610.2 L1597.3,611.0 L1597.9,611.8 L1598.5,612.6 L1599.2,613.2 L1600.0,613.8 L1600.8,614.2 L1601.7,614.5 L1602.7,614.8 L1603.7,614.9 L1604.7,615.0 L1605.7,615.1 L1606.8,615.1 L1607.9,615.1 L1608.9,615.0 L1610.0,615.0 L1611.2,615.0 L1612.4,614.9 L1613.7,614.8 L1615.0,614.7 L1616.2,614.5 L1617.5,614.3 L1618.8,614.0 L1620.0,613.6 L1621.3,613.1 L1622.5,612.5 L1624.1,611.5 L1625.6,610.2 L1627.1,608.8 L1628.6,607.2 L1630.1,605.5 L1631.5,603.6 L1633.0,601.8 L1634.5,599.9 L1636.0,598.0 L1637.5,596.2 L1639.2,594.3 L1641.0,592.2 L1642.8,590.2 L1644.6,588.1 L1646.3,585.9 L1648.1,583.8 L1649.9,581.6 L1651.6,579.4 L1653.3,577.2 L1655.0,575.0 L1656.6,572.8 L1658.2,570.6 L1659.7,568.3 L1661.3,566.1 L1662.8,563.8 L1664.3,561.6 L1665.7,559.3 L1667.2,557.0 L1668.6,554.7 L1670.0,552.5 L1671.4,550.2 L1673.0,547.6 L1674.7,544.8 L1676.3,541.9 L1677.9,539.2 L1679.4,536.7 L1680.6,534.5 L1681.6,532.8 L1682.3,531.7 L1682.5,531.2" fill="none" stroke="#f04040" stroke-width="7.6" stroke-linecap="round" stroke-linejoin="round" stroke-dasharray="10.5 18.4" stroke-dashoffset="1.73"/>
<path d="M455.0,613.0 L455.1,613.4 L455.2,614.4 L455.4,616.0 L455.8,618.1 L456.2,620.5 L456.6,623.0 L457.1,625.7 L457.6,628.3 L458.2,630.8 L458.8,633.0 L459.4,635.3 L460.1,637.6 L460.8,639.9 L461.5,642.2 L462.4,644.6 L463.2,646.9 L464.2,649.2 L465.2,651.5 L466.3,653.6 L467.5,655.8 L468.8,657.8 L470.2,659.8 L471.7,661.7 L473.3,663.5 L474.9,665.3 L476.6,667.1 L478.3,669.0 L480.1,670.8 L481.9,672.6 L483.8,674.5 L485.9,676.7 L488.1,678.9 L490.5,681.2 L492.8,683.4 L495.2,685.6 L497.7,687.9 L500.2,690.2 L502.6,692.4 L505.1,694.7 L507.5,697.0 L510.0,699.4 L512.6,701.7 L515.2,704.1 L517.8,706.5 L520.4,708.9 L522.9,711.3 L525.5,713.7 L527.9,716.0 L530.3,718.4 L532.5,720.8 L534.3,722.7 L536.1,724.7 L537.8,726.6 L539.5,728.5 L541.1,730.4 L542.7,732.3 L544.3,734.3 L545.8,736.3 L547.3,738.5 L548.8,740.8 L550.4,743.5 L552.1,746.4 L553.7,749.4 L555.2,752.5 L556.8,755.7 L558.2,758.9 L559.7,762.2 L561.1,765.4 L562.4,768.7 L563.8,772.0 L565.1,775.4 L566.4,778.9 L567.7,782.5 L568.9,786.0 L570.1,789.7 L571.2,793.2 L572.3,796.8 L573.3,800.3 L574.2,803.7 L575.0,807.0 L575.6,809.6 L576.1,812.2 L576.5,814.7 L576.9,817.2 L577.2,819.7 L577.5,822.1 L577.8,824.5 L578.1,827.0 L578.4,829.5 L578.8,832.0 L579.1,834.8 L579.5,837.6 L580.0,840.6 L580.4,843.5 L580.8,846.5 L581.2,849.4 L581.5,852.2 L581.9,854.8 L582.2,857.3 L582.5,859.5 L582.7,860.7 L582.8,861.8 L582.9,862.8 L583.1,863.7 L583.2,864.6 L583.3,865.5 L583.4,866.5 L583.5,867.5 L583.6,868.7 L583.8,870.0 L583.9,873.2 L584.1,876.8 L584.2,880.9 L584.3,885.3 L584.3,889.9 L584.4,894.7 L584.5,899.6 L584.6,904.5 L584.8,909.4 L585.0,914.0 L585.3,918.9 L585.6,923.8 L586.0,928.8 L586.4,933.8 L586.8,938.8 L587.2,943.8 L587.7,948.9 L588.1,953.9 L588.4,959.0 L588.8,964.0 L589.0,969.0 L589.3,974.0 L589.6,979.0 L589.8,984.0 L590.0,989.1 L590.2,994.1 L590.4,999.1 L590.6,1004.1 L590.8,1009.0 L591.0,1014.0 L591.2,1019.3 L591.4,1025.2 L591.6,1031.5 L591.7,1037.9 L591.9,1044.1 L592.1,1049.8 L592.2,1054.7 L592.3,1058.6 L592.4,1061.1 L592.5,1062.0" fill="none" stroke="#00ff00" stroke-width="8" stroke-linecap="round" stroke-linejoin="round" stroke-dasharray="21.5 25 3.5 21 3.5 19.5" stroke-dashoffset="0.00"/>
<path d="M592.5,1062.0 L592.5,1061.1 L592.5,1058.6 L592.4,1054.7 L592.3,1049.8 L592.2,1044.1 L592.1,1037.9 L592.1,1031.5 L592.0,1025.2 L592.0,1019.3 L592.0,1014.0 L592.1,1009.0 L592.2,1004.1 L592.4,999.1 L592.6,994.1 L592.8,989.1 L593.0,984.0 L593.2,979.0 L593.4,974.0 L593.6,969.0 L593.8,964.0 L593.9,959.0 L594.0,954.0 L594.1,949.0 L594.3,944.0 L594.4,939.0 L594.5,934.0 L594.6,929.0 L594.7,924.0 L594.8,919.0 L595.0,914.0 L595.2,908.9 L595.4,903.6 L595.6,898.2 L595.8,892.7 L596.0,887.4 L596.3,882.1 L596.5,877.1 L596.7,872.3 L596.9,867.9 L597.0,864.0 L597.1,862.0 L597.1,860.1 L597.2,858.3 L597.2,856.7 L597.2,855.1 L597.3,853.6 L597.3,852.1 L597.4,850.5 L597.4,848.8 L597.5,847.0 L597.6,844.7 L597.7,842.4 L597.9,840.0 L598.0,837.5 L598.2,835.0 L598.3,832.5 L598.5,829.9 L598.7,827.3 L599.0,824.7 L599.2,822.0 L599.6,818.9 L599.9,815.8 L600.3,812.6 L600.7,809.4 L601.2,806.1 L601.6,802.8 L602.1,799.5 L602.6,796.2 L603.2,792.8 L603.8,789.5 L604.4,785.9 L605.1,782.2 L605.8,778.5 L606.6,774.8 L607.4,771.0 L608.1,767.3 L608.9,763.6 L609.7,760.0 L610.5,756.6 L611.2,753.2 L611.8,750.7 L612.4,748.2 L612.9,745.9 L613.5,743.6 L614.0,741.3 L614.6,739.1 L615.2,736.8 L615.7,734.5 L616.4,732.0 L617.0,729.5 L617.8,726.3 L618.7,722.9 L619.5,719.4 L620.4,715.9 L621.3,712.3 L622.3,708.7 L623.2,705.1 L624.2,701.5 L625.2,698.0 L626.2,694.5 L627.3,691.2 L628.4,687.8 L629.5,684.5 L630.7,681.1 L631.9,677.8 L633.1,674.6 L634.2,671.3 L635.4,668.2 L636.5,665.0 L637.5,662.0 L638.3,659.5 L639.1,657.1 L639.8,654.7 L640.6,652.4 L641.3,650.2 L642.0,647.9 L642.7,645.6 L643.4,643.2 L644.2,640.8 L645.0,638.2 L646.0,635.1 L647.1,631.9 L648.2,628.6 L649.4,625.2 L650.5,621.8 L651.7,618.3 L652.9,614.8 L654.0,611.4 L655.2,607.9 L656.2,604.5 L657.3,601.1 L658.4,597.7 L659.4,594.2 L660.5,590.7 L661.5,587.3 L662.5,583.8 L663.5,580.5 L664.4,577.1 L665.4,573.9 L666.2,570.8 L667.0,568.2 L667.6,565.8 L668.3,563.5 L668.9,561.2 L669.5,558.9 L670.1,556.6 L670.7,554.3 L671.3,552.0 L671.9,549.5 L672.5,547.0 L673.3,543.8 L674.0,540.4 L674.7,537.0 L675.5,533.5 L676.2,529.9 L677.0,526.3 L677.7,522.7 L678.5,519.1 L679.2,515.5 L680.0,512.0 L680.7,508.6 L681.5,505.1 L682.2,501.6 L682.9,498.2 L683.7,494.7 L684.4,491.3 L685.1,487.9 L685.9,484.6 L686.7,481.4 L687.5,478.2 L688.2,475.7 L689.0,473.3 L689.8,470.9 L690.6,468.6 L691.5,466.3 L692.3,464.0 L693.0,461.7 L693.8,459.4 L694.4,457.0 L695.0,454.5 L695.5,451.7 L695.9,448.9 L696.1,446.1 L696.3,443.2 L696.5,440.3 L696.7,437.3 L696.9,434.4 L697.2,431.4 L697.7,428.5 L698.2,425.5 L699.1,422.3 L700.0,419.0 L701.0,415.7 L702.2,412.4 L703.4,409.1 L704.6,405.8 L705.9,402.6 L707.1,399.3 L708.4,396.1 L709.5,393.0 L710.5,390.1 L711.5,387.3 L712.4,384.5 L713.4,381.7 L714.3,379.0 L715.3,376.2 L716.3,373.5 L717.3,370.8 L718.4,368.2 L719.5,365.5 L720.6,362.9 L721.8,360.4 L723.1,357.9 L724.4,355.4 L725.7,352.9 L727.0,350.4 L728.2,348.0 L729.5,345.5 L730.8,343.0 L732.0,340.5 L733.2,338.0 L734.3,335.5 L735.4,333.0 L736.4,330.4 L737.5,327.9 L738.6,325.4 L739.7,322.9 L740.8,320.4 L742.0,317.9 L743.2,315.5 L744.5,313.2 L745.8,310.9 L747.1,308.6 L748.4,306.4 L749.8,304.2 L751.2,302.0 L752.6,299.7 L754.1,297.5 L755.5,295.3 L757.0,293.0 L758.6,290.5 L760.3,288.0 L761.9,285.4 L763.6,282.9 L765.4,280.3 L767.1,277.7 L768.9,275.2 L770.7,272.7 L772.6,270.3 L774.5,268.0 L776.4,265.8 L778.3,263.7 L780.2,261.7 L782.2,259.6 L784.2,257.7 L786.2,255.7 L788.3,253.8 L790.3,251.8 L792.4,249.9 L794.5,248.0 L796.7,246.0 L798.9,244.1 L801.1,242.1 L803.3,240.1 L805.6,238.2 L807.9,236.3 L810.1,234.4 L812.4,232.6 L814.6,230.8 L816.9,229.0 L818.8,227.5 L820.8,226.0 L822.8,224.6 L824.7,223.2 L826.7,221.8 L828.6,220.4 L830.6,219.1 L832.6,217.7 L834.6,216.3 L836.6,215.0 L838.8,213.5 L841.0,212.1 L843.2,210.7 L845.4,209.3 L847.6,207.9 L849.8,206.5 L852.1,205.1 L854.3,203.7 L856.6,202.3 L858.9,200.9 L861.3,199.5 L863.8,198.0 L866.3,196.6 L868.8,195.1 L871.3,193.7 L873.8,192.3 L876.3,190.9 L878.8,189.5 L881.2,188.1 L883.7,186.8 L885.9,185.5 L888.1,184.2 L890.3,182.9 L892.5,181.7 L894.7,180.4 L896.9,179.2 L899.1,177.9 L901.3,176.7 L903.6,175.6 L906.0,174.4 L908.5,173.2 L911.2,172.1 L913.9,171.0 L916.6,169.9 L919.3,168.8 L922.1,167.7 L924.9,166.7 L927.7,165.6 L930.4,164.6 L933.2,163.5 L935.9,162.5 L938.6,161.4 L941.3,160.4 L944.1,159.4 L946.8,158.3 L949.5,157.3 L952.2,156.3 L955.0,155.2 L957.7,154.2 L960.4,153.1 L963.1,152.0 L965.9,150.8 L968.6,149.6 L971.3,148.4 L974.1,147.2 L976.8,146.0 L979.5,144.8 L982.2,143.6 L984.9,142.5 L987.6,141.4 L990.1,140.4 L992.7,139.5 L995.2,138.5 L997.7,137.5 L1000.2,136.6 L1002.6,135.7 L1005.1,134.8 L1007.6,134.0 L1010.0,133.2 L1012.5,132.5 L1014.8,131.9 L1017.0,131.3 L1019.2,130.8 L1021.4,130.3 L1023.6,129.8 L1025.9,129.3 L1028.1,128.9 L1030.4,128.4 L1032.7,128.0 L1035.0,127.5 L1037.6,127.0 L1040.3,126.4 L1043.0,125.9 L1045.8,125.3 L1048.6,124.8 L1051.4,124.2 L1054.2,123.7 L1057.0,123.1 L1059.7,122.6 L1062.5,122.0 L1065.3,121.4 L1068.2,120.9 L1071.2,120.3 L1074.2,119.7 L1077.1,119.2 L1080.0,118.6 L1082.8,118.0 L1085.4,117.4 L1087.8,116.8 L1090.0,116.2 L1091.2,115.9 L1092.3,115.5 L1093.3,115.1 L1094.2,114.7 L1095.1,114.3 L1096.0,113.9 L1096.9,113.5 L1097.9,113.1 L1098.9,112.8 L1100.0,112.5 L1101.5,112.2 L1103.2,111.9 L1104.9,111.6 L1106.7,111.4 L1108.5,111.2 L1110.3,111.1 L1112.2,110.9 L1114.0,110.8 L1115.8,110.6 L1117.5,110.5 L1119.0,110.4 L1120.5,110.2 L1122.0,110.1 L1123.4,110.0 L1124.9,109.9 L1126.3,109.8 L1127.8,109.7 L1129.3,109.7 L1130.9,109.6 L1132.5,109.5 L1134.6,109.4 L1136.7,109.3 L1138.9,109.2 L1141.1,109.2 L1143.4,109.1 L1145.7,109.0 L1148.0,109.0 L1150.4,108.9 L1152.7,108.8 L1155.0,108.8 L1157.4,108.7 L1159.8,108.6 L1162.3,108.5 L1164.7,108.4 L1167.2,108.3 L1169.6,108.2 L1172.2,108.1 L1174.7,108.0 L1177.3,108.0 L1180.0,108.0 L1183.3,108.0 L1186.6,108.2 L1190.1,108.3 L1193.6,108.5 L1197.1,108.7 L1200.7,108.8 L1204.3,109.0 L1207.9,109.2 L1211.5,109.4 L1215.0,109.5 L1218.5,109.6 L1222.1,109.6 L1225.7,109.6 L1229.3,109.6 L1232.9,109.6 L1236.4,109.7 L1239.9,109.7 L1243.4,109.7 L1246.7,109.8 L1250.0,110.0 L1252.7,110.2 L1255.2,110.3 L1257.7,110.5 L1260.1,110.7 L1262.5,110.9 L1265.0,111.2 L1267.4,111.4 L1269.8,111.7 L1272.4,112.1 L1275.0,112.5 L1278.2,113.0 L1281.4,113.6 L1284.8,114.3 L1288.1,115.0 L1291.6,115.7 L1295.0,116.5 L1298.5,117.3 L1301.9,118.2 L1305.3,119.1 L1308.8,120.0 L1312.3,121.0 L1315.9,122.0 L1319.5,123.1 L1323.1,124.2 L1326.8,125.3 L1330.3,126.5 L1333.9,127.7 L1337.3,128.9 L1340.6,130.1 L1343.8,131.2 L1346.2,132.2 L1348.6,133.2 L1350.8,134.1 L1353.0,135.1 L1355.2,136.0 L1357.3,137.0 L1359.5,138.0 L1361.7,139.1 L1363.9,140.1 L1366.2,141.2 L1369.0,142.6 L1371.8,144.0 L1374.6,145.5 L1377.5,147.0 L1380.4,148.5 L1383.3,150.0 L1386.2,151.6 L1389.1,153.2 L1392.1,154.7 L1395.0,156.2 L1398.1,157.8 L1401.2,159.5 L1404.4,161.1 L1407.6,162.7 L1410.7,164.3 L1413.9,166.0 L1417.1,167.6 L1420.2,169.2 L1423.2,170.9 L1426.2,172.5" fill="none" stroke="#00ff00" stroke-width="8" stroke-linecap="round" stroke-linejoin="round" stroke-dasharray="21.5 25 3.5 21 3.5 19.5" stroke-dashoffset="15.23"/>
<path d="M1426.2,172.5 L1429.0,174.0 L1431.7,175.4 L1434.4,176.8 L1437.1,178.2 L1439.8,179.6 L1442.4,181.1 L1445.0,182.6 L1447.5,184.1 L1450.0,185.8 L1452.5,187.5 L1454.9,189.4 L1457.3,191.4 L1459.6,193.4 L1461.9,195.6 L1464.1,197.8 L1466.3,200.0 L1468.5,202.2 L1470.7,204.4 L1472.9,206.6 L1475.0,208.8 L1477.0,210.7 L1479.1,212.6 L1481.2,214.5 L1483.2,216.4 L1485.2,218.3 L1487.2,220.2 L1489.1,222.2 L1491.0,224.3 L1492.8,226.4 L1494.5,228.8 L1496.3,231.5 L1498.0,234.4 L1499.6,237.5 L1501.2,240.6 L1502.7,243.8 L1504.1,247.1 L1505.6,250.4 L1507.0,253.6 L1508.5,256.9 L1510.0,260.0 L1511.5,263.0 L1513.0,266.1 L1514.6,269.2 L1516.1,272.3 L1517.6,275.3 L1519.2,278.3 L1520.7,281.3 L1522.1,284.3 L1523.6,287.2 L1525.0,290.0 L1526.2,292.4 L1527.4,294.6 L1528.6,296.8 L1529.7,298.9 L1530.9,301.1 L1532.0,303.2 L1533.1,305.4 L1534.2,307.7 L1535.2,310.0 L1536.2,312.5 L1537.4,315.7 L1538.5,319.0 L1539.6,322.4 L1540.7,325.9 L1541.7,329.5 L1542.7,333.1 L1543.6,336.7 L1544.5,340.4 L1545.4,344.0 L1546.2,347.5 L1547.0,350.9 L1547.8,354.3 L1548.5,357.7 L1549.2,361.1 L1549.9,364.6 L1550.5,368.0 L1551.2,371.3 L1551.8,374.7 L1552.4,378.0 L1553.0,381.2 L1553.6,384.2 L1554.1,387.2 L1554.6,390.2 L1555.2,393.1 L1555.7,396.0 L1556.2,398.9 L1556.7,401.7 L1557.1,404.5 L1557.6,407.3 L1558.0,410.0 L1558.4,412.3 L1558.7,414.6 L1559.0,416.8 L1559.3,419.0 L1559.6,421.2 L1559.9,423.4 L1560.2,425.5 L1560.4,427.7 L1560.7,429.8 L1561.0,432.0 L1561.3,434.1 L1561.6,436.1 L1561.8,438.2 L1562.1,440.2 L1562.4,442.2 L1562.7,444.3 L1563.0,446.3 L1563.2,448.3 L1563.5,450.4 L1563.8,452.5 L1564.0,454.7 L1564.3,456.9 L1564.5,459.1 L1564.8,461.3 L1565.0,463.6 L1565.2,465.8 L1565.5,468.1 L1565.7,470.4 L1566.0,472.7 L1566.2,475.0 L1566.5,477.5 L1566.8,480.1 L1567.1,482.6 L1567.3,485.2 L1567.6,487.8 L1567.9,490.4 L1568.3,493.1 L1568.6,495.8 L1569.0,498.5 L1569.5,501.2 L1570.1,504.5 L1570.8,507.7 L1571.6,511.1 L1572.4,514.4 L1573.3,517.8 L1574.2,521.3 L1575.0,524.7 L1575.9,528.1 L1576.7,531.6 L1577.5,535.0 L1578.2,538.5 L1579.0,542.1 L1579.7,545.7 L1580.4,549.3 L1581.1,552.9 L1581.8,556.5 L1582.5,560.0 L1583.2,563.5 L1583.8,566.8 L1584.5,570.0 L1585.0,572.4 L1585.5,574.8 L1586.0,577.0 L1586.5,579.2 L1587.0,581.4 L1587.5,583.5 L1588.0,585.7 L1588.5,587.9 L1589.0,590.1 L1589.5,592.5 L1590.0,595.4 L1590.5,598.4 L1590.9,601.6 L1591.3,604.8 L1591.7,608.1 L1592.2,611.2 L1592.7,614.3 L1593.3,617.3 L1594.1,620.0 L1595.0,622.5 L1595.8,624.2 L1596.7,625.8 L1597.6,627.4 L1598.6,628.9 L1599.6,630.3 L1600.7,631.6 L1601.7,632.9 L1602.8,634.1 L1603.9,635.2 L1605.0,636.2 L1605.8,637.1 L1606.7,637.9 L1607.5,638.7 L1608.3,639.5 L1609.2,640.2 L1610.1,640.8 L1610.9,641.4 L1611.9,641.7 L1612.8,642.0 L1613.8,642.0 L1615.2,641.6 L1616.7,640.9 L1618.3,639.7 L1619.9,638.2 L1621.6,636.5 L1623.3,634.7 L1625.0,632.8 L1626.7,630.9 L1628.3,629.1 L1630.0,627.5 L1631.8,625.8 L1633.6,624.2 L1635.4,622.5 L1637.2,620.8 L1639.0,619.1 L1640.8,617.3 L1642.6,615.5 L1644.3,613.7 L1645.9,611.9 L1647.5,610.0 L1648.9,608.1 L1650.3,606.2 L1651.6,604.2 L1652.8,602.2 L1654.0,600.1 L1655.2,598.1 L1656.4,596.0 L1657.6,594.0 L1658.8,592.0 L1660.0,590.0 L1661.2,588.1 L1662.5,586.3 L1663.7,584.4 L1664.9,582.6 L1666.1,580.8 L1667.4,579.0 L1668.6,577.1 L1669.9,575.2 L1671.2,573.3 L1672.5,571.2 L1674.2,568.6 L1676.0,565.8 L1677.9,562.9 L1679.8,559.9 L1681.7,556.8 L1683.6,553.8 L1685.4,551.0 L1687.1,548.3 L1688.6,545.9 L1690.0,543.8 L1690.7,542.7 L1691.5,541.5 L1692.2,540.4 L1692.9,539.3 L1693.6,538.3 L1694.2,537.4 L1694.8,536.6 L1695.2,536.0 L1695.4,535.6 L1695.5,535.5" fill="none" stroke="#00ff00" stroke-width="8" stroke-linecap="round" stroke-linejoin="round" stroke-dasharray="21.5 25 3.5 21 3.5 19.5" stroke-dashoffset="71.17"/>
<path d="M493.8,612.0 L493.9,612.4 L494.2,613.6 L494.7,615.4 L495.4,617.7 L496.1,620.3 L496.9,623.1 L497.8,626.0 L498.6,628.7 L499.3,631.2 L500.0,633.2 L500.5,634.6 L500.9,636.0 L501.3,637.3 L501.7,638.5 L502.1,639.7 L502.6,640.9 L503.0,642.1 L503.5,643.3 L504.0,644.5 L504.5,645.8 L505.1,647.0 L505.6,648.3 L506.2,649.5 L506.8,650.8 L507.5,652.0 L508.1,653.3 L508.8,654.5 L509.6,655.8 L510.4,657.0 L511.2,658.2 L512.4,659.8 L513.7,661.3 L515.0,662.9 L516.5,664.5 L518.0,666.1 L519.5,667.6 L521.0,669.1 L522.4,670.6 L523.8,672.0 L525.0,673.2 L525.8,674.1 L526.6,674.9 L527.3,675.6 L528.1,676.4 L528.8,677.1 L529.5,677.7 L530.2,678.4 L530.9,679.2 L531.7,679.9 L532.5,680.8 L533.6,681.9 L534.8,683.0 L536.0,684.2 L537.2,685.5 L538.5,686.7 L539.8,688.0 L541.1,689.3 L542.4,690.6 L543.7,691.9 L545.0,693.2 L546.5,694.7 L548.0,696.2 L549.5,697.7 L551.1,699.3 L552.7,700.8 L554.3,702.4 L555.8,703.9 L557.3,705.4 L558.7,706.9 L560.0,708.2 L561.0,709.3 L562.0,710.3 L562.9,711.3 L563.8,712.3 L564.6,713.2 L565.5,714.2 L566.3,715.2 L567.1,716.2 L568.0,717.2 L568.8,718.2 L569.6,719.4 L570.3,720.6 L571.1,721.8 L571.8,723.0 L572.6,724.2 L573.3,725.5 L574.0,726.7 L574.7,728.0 L575.5,729.4 L576.2,730.8 L577.2,732.5 L578.3,734.3 L579.3,736.2 L580.4,738.1 L581.4,740.1 L582.5,742.0 L583.5,744.0 L584.5,745.9 L585.4,747.7 L586.2,749.5 L586.9,750.9 L587.5,752.2 L588.0,753.5 L588.6,754.8 L589.1,756.1 L589.6,757.3 L590.0,758.6 L590.5,759.9 L590.9,761.2 L591.2,762.5 L591.6,763.9 L591.9,765.3 L592.1,766.7 L592.3,768.1 L592.5,769.5 L592.7,771.0 L592.9,772.5 L593.1,773.9 L593.4,775.5 L593.8,777.0 L594.2,778.9 L594.8,780.9 L595.5,782.9 L596.2,785.0 L596.9,787.0 L597.6,789.1 L598.3,791.2 L599.0,793.2 L599.5,795.1 L600.0,797.0 L600.3,798.5 L600.6,799.9 L600.8,801.3 L601.0,802.7 L601.2,804.0 L601.4,805.4 L601.5,806.7 L601.7,808.0 L601.8,809.4 L602.0,810.8 L602.2,812.1 L602.4,813.4 L602.5,814.8 L602.7,816.1 L602.8,817.4 L603.0,818.8 L603.2,820.1 L603.4,821.5 L603.5,823.0 L603.8,824.5 L604.0,826.5 L604.4,828.7 L604.7,830.9 L605.1,833.3 L605.5,835.6 L605.9,838.0 L606.2,840.3 L606.5,842.6 L606.8,844.8 L607.0,847.0 L607.1,848.8 L607.2,850.4 L607.3,852.0 L607.3,853.5 L607.3,855.1 L607.3,856.7 L607.3,858.3 L607.4,860.1 L607.4,861.9 L607.5,864.0 L607.7,867.9 L608.0,872.1 L608.4,876.6 L608.8,881.5 L609.2,886.5 L609.6,891.8 L610.0,897.2 L610.4,902.7 L610.7,908.3 L611.0,914.0" fill="none" stroke="#0000ff" stroke-width="8" stroke-linecap="round" stroke-linejoin="round" stroke-dasharray="19 15.5 0.01 15.5" stroke-dashoffset="0.00"/>
<path d="M611.0,914.0 L611.3,921.5 L611.5,929.3 L611.6,937.3 L611.7,945.6 L611.8,954.0 L611.9,962.7 L611.9,971.7 L611.9,980.9 L612.0,990.3 L612.0,1000.0 L612.1,1014.9 L612.1,1032.6 L612.1,1052.2 L612.1,1072.5 L612.1,1092.6 L612.1,1111.4 L612.0,1127.8 L612.0,1140.8 L612.0,1149.4 L612.0,1152.5" fill="none" stroke="#0000ff" stroke-width="8" stroke-linecap="round" stroke-linejoin="round" stroke-dasharray="19 15.5 0.01 15.5" stroke-dashoffset="46.04"/>
<path d="M612.0,1152.5 L612.0,1149.4 L612.0,1140.8 L612.0,1127.8 L612.1,1111.4 L612.1,1092.6 L612.1,1072.5 L612.1,1052.2 L612.2,1032.6 L612.2,1014.9 L612.3,1000.0 L612.3,990.3 L612.3,980.9 L612.3,971.7 L612.3,962.7 L612.3,954.0 L612.3,945.5 L612.3,937.3 L612.5,929.3 L612.7,921.5 L613.0,914.0" fill="none" stroke="#0000ff" stroke-width="8" stroke-linecap="round" stroke-linejoin="round" stroke-dasharray="19 15.5 0.01 15.5" stroke-dashoffset="39.01"/>
<path d="M613.0,914.0 L613.3,908.4 L613.7,902.8 L614.1,897.4 L614.6,892.1 L615.1,887.0 L615.6,882.0 L616.1,877.2 L616.6,872.6 L617.1,868.2 L617.5,864.0 L617.8,861.3 L618.1,858.8 L618.3,856.3 L618.6,854.0 L618.9,851.8 L619.2,849.6 L619.4,847.4 L619.6,845.2 L619.8,843.0 L620.0,840.8 L620.1,838.6 L620.2,836.4 L620.3,834.2 L620.4,831.9 L620.4,829.8 L620.4,827.6 L620.5,825.5 L620.5,823.4 L620.5,821.4 L620.5,819.5 L620.5,818.1 L620.5,816.7 L620.4,815.3 L620.4,814.0 L620.4,812.7 L620.3,811.4 L620.3,810.2 L620.3,808.9 L620.3,807.6 L620.3,806.2 L620.3,804.9 L620.4,803.5 L620.5,802.1 L620.5,800.7 L620.6,799.4 L620.7,798.0 L620.8,796.5 L620.9,795.1 L621.1,793.6 L621.2,792.0 L621.5,789.9 L621.8,787.7 L622.1,785.4 L622.5,783.1 L622.8,780.7 L623.2,778.3 L623.6,775.9 L623.9,773.7 L624.2,771.5 L624.5,769.5 L624.7,768.1 L624.8,766.8 L624.9,765.5 L625.1,764.3 L625.2,763.1 L625.3,761.9 L625.4,760.7 L625.5,759.5 L625.6,758.3 L625.8,757.0 L625.9,755.7 L626.1,754.3 L626.2,753.0 L626.4,751.7 L626.5,750.3 L626.7,749.0 L626.9,747.6 L627.1,746.2 L627.3,744.7 L627.5,743.2 L627.8,741.3 L628.2,739.2 L628.6,737.1 L629.0,734.9 L629.4,732.6 L629.8,730.4 L630.2,728.2 L630.6,726.0 L630.9,724.0 L631.2,722.0 L631.5,720.5 L631.6,719.1 L631.8,717.7 L632.0,716.3 L632.1,714.9 L632.2,713.6 L632.4,712.3 L632.6,710.9 L632.8,709.6 L633.0,708.2 L633.3,706.9 L633.5,705.5 L633.8,704.2 L634.2,702.9 L634.5,701.6 L634.8,700.2 L635.2,698.9 L635.5,697.5 L635.9,696.0 L636.2,694.5 L636.7,692.4 L637.2,690.2 L637.7,687.9 L638.2,685.6 L638.7,683.2 L639.3,680.8 L639.8,678.4 L640.3,676.2 L640.8,674.0 L641.2,672.0 L641.6,670.6 L641.9,669.3 L642.3,668.0 L642.6,666.8 L642.9,665.6 L643.2,664.4 L643.6,663.2 L643.9,662.0 L644.2,660.8 L644.5,659.5 L644.8,658.2 L645.1,656.8 L645.4,655.5 L645.6,654.2 L645.9,652.8 L646.2,651.5 L646.5,650.1 L646.8,648.7 L647.1,647.2 L647.5,645.8 L648.0,643.8 L648.6,641.7 L649.2,639.5 L649.9,637.3 L650.6,635.1 L651.2,632.8 L651.9,630.6 L652.6,628.5 L653.2,626.4 L653.8,624.5 L654.2,623.1 L654.6,621.7 L654.9,620.4 L655.3,619.1 L655.7,617.8 L656.1,616.6 L656.4,615.3 L656.8,614.1 L657.1,612.8 L657.5,611.5 L657.9,610.2 L658.2,608.9 L658.6,607.6 L659.0,606.4 L659.3,605.1 L659.7,603.8 L660.0,602.5 L660.4,601.1 L660.8,599.7 L661.2,598.2 L661.8,596.3 L662.4,594.2 L663.0,592.1 L663.7,589.9 L664.3,587.6 L665.0,585.4 L665.6,583.2 L666.3,581.0 L666.9,578.9 L667.5,577.0 L667.9,575.5 L668.4,574.1 L668.8,572.8 L669.2,571.5 L669.6,570.2 L670.1,568.9 L670.5,567.6 L670.9,566.3 L671.3,565.1 L671.8,563.8 L672.2,562.5 L672.6,561.2 L673.0,559.9 L673.5,558.7 L673.9,557.4 L674.4,556.2 L674.8,554.9 L675.3,553.5 L675.8,552.2 L676.2,550.8 L676.9,548.8 L677.7,546.7 L678.4,544.6 L679.2,542.4 L680.1,540.1 L680.9,537.9 L681.7,535.6 L682.4,533.5 L683.1,531.4 L683.8,529.5 L684.2,528.1 L684.6,526.8 L685.0,525.5 L685.3,524.3 L685.7,523.0 L686.0,521.8 L686.3,520.6 L686.7,519.4 L687.1,518.2 L687.5,517.0 L687.9,515.8 L688.4,514.5 L688.9,513.3 L689.3,512.1 L689.8,510.9 L690.3,509.7 L690.9,508.5 L691.4,507.2 L691.9,505.9 L692.5,504.5 L693.3,502.6 L694.1,500.5 L695.0,498.4 L695.9,496.1 L696.9,493.9 L697.8,491.6 L698.7,489.4 L699.6,487.2 L700.5,485.2 L701.2,483.2 L701.8,481.9 L702.3,480.5 L702.9,479.3 L703.4,478.0 L703.8,476.8 L704.3,475.6 L704.8,474.4 L705.3,473.2 L705.8,472.0 L706.2,470.8 L706.7,469.5 L707.2,468.3 L707.7,467.0 L708.2,465.8 L708.7,464.5 L709.2,463.3 L709.7,462.0 L710.2,460.8 L710.7,459.5 L711.2,458.2 L711.8,456.9 L712.4,455.7 L713.0,454.4 L713.6,453.1 L714.2,451.8 L714.8,450.5 L715.5,449.2 L716.1,447.9 L716.8,446.5 L717.5,445.0 L718.4,443.1 L719.4,441.1 L720.4,439.0 L721.5,436.9 L722.5,434.8 L723.6,432.6 L724.6,430.4 L725.6,428.2 L726.6,426.0 L727.5,423.8 L728.4,421.5 L729.2,419.1 L730.0,416.8 L730.7,414.4 L731.5,412.0 L732.2,409.6 L732.9,407.2 L733.6,404.8 L734.3,402.4 L735.0,400.0 L735.7,397.6 L736.4,395.3 L737.1,392.9 L737.8,390.5 L738.5,388.1 L739.2,385.7 L739.8,383.4 L740.5,381.0 L741.3,378.6 L742.0,376.2 L742.8,373.9 L743.5,371.5 L744.3,369.1 L745.0,366.7 L745.8,364.3 L746.6,362.0 L747.4,359.6 L748.3,357.2 L749.1,354.9 L750.0,352.5 L750.9,350.1 L751.9,347.7 L752.9,345.3 L753.9,342.9 L755.0,340.5 L756.0,338.2 L757.1,335.8 L758.1,333.4 L759.1,331.1 L760.0,328.8 L760.8,326.6 L761.6,324.4 L762.4,322.3 L763.2,320.2 L763.9,318.1 L764.7,316.0 L765.4,313.9 L766.2,311.8 L767.1,309.6 L768.0,307.5 L769.1,305.1 L770.2,302.8 L771.3,300.4 L772.5,298.0 L773.7,295.6 L775.0,293.2 L776.2,290.8 L777.5,288.4 L778.7,286.1 L780.0,283.8 L781.2,281.5 L782.4,279.3 L783.6,277.1 L784.8,274.9 L786.0,272.7 L787.2,270.5 L788.4,268.4 L789.7,266.4 L791.1,264.4 L792.5,262.5 L793.8,260.8 L795.2,259.2 L796.6,257.6 L798.0,256.1 L799.5,254.6 L801.0,253.2 L802.6,251.7 L804.2,250.3 L805.8,248.9 L807.5,247.5 L809.5,245.9 L811.6,244.3 L813.8,242.7 L816.0,241.2 L818.3,239.7 L820.7,238.2 L823.0,236.7 L825.4,235.2 L827.7,233.9 L830.0,232.5 L832.2,231.3 L834.5,230.1 L836.7,228.9 L839.0,227.8 L841.2,226.7 L843.5,225.7 L845.7,224.6 L848.0,223.5 L850.3,222.4 L852.5,221.2 L854.8,220.0 L857.0,218.8 L859.2,217.5 L861.5,216.2 L863.7,214.9 L865.9,213.6 L868.2,212.3 L870.4,211.1 L872.7,209.9 L875.0,208.8 L877.3,207.7 L879.7,206.7 L882.0,205.7 L884.4,204.8 L886.8,203.9 L889.2,203.1 L891.6,202.2 L894.0,201.3 L896.4,200.4 L898.8,199.5 L901.1,198.6 L903.5,197.6 L905.9,196.6 L908.2,195.6 L910.6,194.7 L913.0,193.7 L915.4,192.8 L917.7,191.8 L920.1,190.9 L922.5,190.0 L924.9,189.1 L927.2,188.3 L929.6,187.5 L931.9,186.6 L934.3,185.8 L936.7,185.1 L939.1,184.3 L941.4,183.5 L943.8,182.7 L946.2,182.0 L948.7,181.3 L951.2,180.5 L953.7,179.9 L956.2,179.2 L958.8,178.5 L961.3,177.8 L963.8,177.1 L966.3,176.5 L968.8,175.7 L971.2,175.0 L973.7,174.2 L976.0,173.5 L978.4,172.6 L980.8,171.8 L983.1,171.0 L985.5,170.2 L987.8,169.4 L990.2,168.5 L992.6,167.8 L995.0,167.0 L997.5,166.2 L1000.0,165.5 L1002.5,164.8 L1005.0,164.1 L1007.5,163.3 L1010.0,162.6 L1012.5,162.0 L1015.0,161.3 L1017.5,160.6 L1020.0,160.0 L1022.4,159.4 L1024.8,158.8 L1027.1,158.3 L1029.5,157.7 L1031.8,157.2 L1034.2,156.6 L1036.5,156.1 L1038.9,155.6 L1041.3,155.0 L1043.8,154.5 L1046.3,153.9 L1048.9,153.3 L1051.6,152.8 L1054.2,152.2 L1056.9,151.6 L1059.5,151.0 L1062.2,150.4 L1064.8,149.9 L1067.4,149.3 L1070.0,148.8 L1072.4,148.2 L1074.8,147.7 L1077.2,147.2 L1079.6,146.7 L1081.9,146.2 L1084.3,145.7 L1086.6,145.2 L1089.0,144.7 L1091.4,144.2 L1093.8,143.8 L1096.2,143.2 L1098.7,142.7 L1101.2,142.2 L1103.7,141.7 L1106.2,141.2 L1108.7,140.7 L1111.2,140.2 L1113.7,139.7 L1116.2,139.2 L1118.8,138.8 L1121.2,138.3 L1123.8,137.8 L1126.3,137.4 L1128.8,137.0 L1131.3,136.5 L1133.8,136.1 L1136.3,135.7 L1138.8,135.3 L1141.3,134.9 L1143.8,134.5 L1146.1,134.1 L1148.5,133.8 L1150.9,133.5 L1153.3,133.2 L1155.6,132.9 L1158.0,132.6 L1160.4,132.3 L1162.7,131.9 L1165.1,131.6 L1167.5,131.2 L1170.0,130.9 L1172.5,130.5 L1175.0,130.0 L1177.5,129.6 L1180.0,129.2 L1182.5,128.7 L1185.0,128.3 L1187.5,127.8 L1190.0,127.4 L1192.5,127.0 L1195.0,126.6 L1197.5,126.2 L1200.0,125.7 L1202.5,125.3 L1205.0,124.9 L1207.5,124.5 L1210.0,124.1 L1212.5,123.7 L1215.0,123.3 L1217.5,123.0 L1220.0,122.7 L1222.4,122.4 L1224.9,122.2 L1227.3,121.9 L1229.8,121.7 L1232.2,121.5 L1234.7,121.2 L1237.1,121.0 L1239.6,120.8 L1242.0,120.5 L1244.4,120.2 L1246.9,119.9 L1249.3,119.6 L1251.7,119.3 L1254.1,118.9 L1256.5,118.6 L1258.9,118.3 L1261.4,118.0 L1263.8,117.7 L1266.2,117.5 L1268.7,117.3 L1271.2,117.1 L1273.7,117.0 L1276.2,116.8 L1278.8,116.7 L1281.3,116.6 L1283.8,116.5 L1286.3,116.4 L1288.8,116.3 L1291.2,116.2 L1293.6,116.2 L1296.0,116.1 L1298.4,116.1 L1300.8,116.0 L1303.1,116.0 L1305.5,116.0 L1307.8,115.9 L1310.2,115.9 L1312.6,115.8 L1315.0,115.8 L1317.5,115.7 L1320.0,115.5 L1322.5,115.4 L1325.0,115.3 L1327.5,115.1 L1330.0,115.0 L1332.5,114.9 L1335.0,114.7 L1337.5,114.6 L1340.0,114.5 L1342.5,114.4 L1345.0,114.3 L1347.5,114.2 L1350.0,114.1 L1352.5,114.0 L1355.0,113.9 L1357.5,113.8 L1360.0,113.8 L1362.5,113.8 L1365.0,113.8 L1367.5,113.8 L1370.0,113.8 L1372.5,113.8 L1375.0,113.9 L1377.5,114.0 L1380.0,114.1 L1382.5,114.2 L1385.0,114.3 L1387.5,114.4 L1390.0,114.5 L1392.5,114.6 L1395.2,114.7 L1397.8,114.8 L1400.5,115.0 L1403.1,115.1 L1405.7,115.3 L1408.2,115.4 L1410.6,115.7 L1412.9,115.9 L1415.0,116.2 L1416.4,116.5 L1417.7,116.8 L1419.0,117.1 L1420.2,117.4 L1421.4,117.7 L1422.5,118.1 L1423.7,118.4 L1424.8,118.8 L1425.9,119.1 L1427.0,119.5 L1428.0,119.9 L1429.0,120.3 L1429.9,120.8 L1430.9,121.2 L1431.8,121.7 L1432.7,122.1 L1433.6,122.5 L1434.5,122.8 L1435.4,123.0 L1436.2,123.0 L1437.0,122.9 L1437.7,122.7 L1438.4,122.3 L1439.0,121.9 L1439.7,121.5 L1440.3,121.1 L1441.0,120.6 L1441.6,120.2 L1442.3,119.8 L1443.0,119.5 L1443.7,119.3 L1444.3,119.1 L1444.9,118.9 L1445.6,118.7 L1446.2,118.5 L1446.9,118.4 L1447.6,118.3 L1448.3,118.2 L1449.1,118.1 L1450.0,118.0 L1451.9,117.9 L1454.0,117.9 L1456.4,118.0 L1459.0,118.1 L1461.6,118.3 L1464.4,118.5 L1467.1,118.7 L1469.8,119.0 L1472.5,119.2 L1475.0,119.5 L1477.3,119.8 L1479.6,120.1 L1481.8,120.4 L1484.0,120.8 L1486.3,121.1 L1488.5,121.5 L1490.7,121.9 L1492.9,122.3 L1495.2,122.7 L1497.5,123.0 L1500.0,123.3 L1502.4,123.7 L1504.9,124.0 L1507.5,124.3 L1510.0,124.6 L1512.5,124.9 L1515.0,125.2 L1517.6,125.5 L1520.0,125.9 L1522.5,126.2 L1524.8,126.6 L1527.2,127.1 L1529.5,127.5 L1531.7,127.9 L1534.0,128.4 L1536.3,128.8 L1538.6,129.3 L1540.9,129.8 L1543.2,130.3 L1545.5,130.8 L1547.9,131.3 L1550.4,131.8 L1552.8,132.3 L1555.3,132.8 L1557.7,133.4 L1560.2,133.9 L1562.7,134.5 L1565.1,135.1 L1567.6,135.7 L1570.0,136.2 L1572.4,136.8 L1574.8,137.4 L1577.2,138.0 L1579.5,138.6 L1581.9,139.3 L1584.3,139.9 L1586.7,140.5 L1589.0,141.2 L1591.4,141.8 L1593.8,142.5 L1596.1,143.2 L1598.6,143.9 L1601.0,144.6 L1603.4,145.3 L1605.8,146.1 L1608.2,146.8 L1610.6,147.6 L1612.9,148.4 L1615.2,149.2 L1617.5,150.0 L1619.6,150.8 L1621.6,151.6 L1623.7,152.4 L1625.6,153.3 L1627.6,154.2 L1629.6,155.0 L1631.6,155.9 L1633.5,156.9 L1635.5,157.8 L1637.5,158.8 L1639.7,159.8 L1641.9,160.9 L1644.2,162.0 L1646.5,163.2 L1648.7,164.4 L1650.9,165.6 L1653.1,166.7 L1655.1,167.9 L1657.0,169.0 L1658.8,170.0 L1659.8,170.7 L1660.7,171.4 L1661.6,172.1 L1662.4,172.8 L1663.2,173.5 L1664.0,174.1 L1664.8,174.8 L1665.6,175.3 L1666.5,175.8 L1667.5,176.2 L1668.7,176.6 L1669.9,176.9 L1671.1,177.0 L1672.3,177.1 L1673.7,177.1 L1675.0,177.2 L1676.4,177.2 L1677.8,177.2 L1679.3,177.3 L1680.8,177.5 L1682.9,177.8 L1685.1,178.2 L1687.5,178.6 L1689.9,179.1 L1692.4,179.6 L1694.9,180.1 L1697.5,180.6 L1700.0,181.1 L1702.5,181.6 L1705.0,182.0 L1707.4,182.4 L1709.9,182.7 L1712.4,183.0 L1714.8,183.3 L1717.3,183.7 L1719.8,184.0 L1722.2,184.3 L1724.7,184.7 L1727.1,185.2 L1729.5,185.8 L1731.9,186.4 L1734.3,187.1 L1736.8,187.9 L1739.3,188.7 L1741.7,189.6 L1744.1,190.5 L1746.3,191.4 L1748.5,192.2 L1750.6,193.0 L1752.5,193.8" fill="none" stroke="#0000ff" stroke-width="8" stroke-linecap="round" stroke-linejoin="round" stroke-dasharray="19 15.5 0.01 15.5" stroke-dashoffset="26.41"/>
<path d="M1752.5,193.8 L1753.7,194.2 L1754.8,194.7 L1755.8,195.2 L1756.7,195.8 L1757.7,196.2 L1758.6,196.7 L1759.5,197.1 L1760.5,197.5 L1761.5,197.8 L1762.5,198.0 L1763.6,198.2 L1764.8,198.3 L1765.9,198.3 L1767.1,198.3 L1768.3,198.2 L1769.5,198.1 L1770.7,197.9 L1772.0,197.7 L1773.2,197.4 L1774.5,197.0 L1776.3,196.4 L1778.1,195.5 L1780.0,194.5 L1781.8,193.4 L1783.8,192.2 L1785.7,190.9 L1787.7,189.7 L1789.7,188.5 L1791.7,187.3 L1793.8,186.2 L1795.9,185.2 L1798.1,184.3 L1800.3,183.3 L1802.5,182.4 L1804.8,181.5 L1807.0,180.6 L1809.3,179.7 L1811.6,178.8 L1813.9,177.9 L1816.2,177.0 L1818.7,176.0 L1821.2,175.1 L1823.6,174.1 L1826.1,173.1 L1828.7,172.1 L1831.2,171.2 L1833.7,170.2 L1836.2,169.3 L1838.7,168.4 L1841.2,167.5 L1843.7,166.7 L1846.1,165.9 L1848.6,165.1 L1851.1,164.4 L1853.5,163.6 L1856.0,162.9 L1858.4,162.2 L1860.9,161.4 L1863.3,160.7 L1865.8,160.0 L1868.2,159.3 L1870.6,158.6 L1873.0,157.8 L1875.4,157.1 L1877.9,156.4 L1880.3,155.7 L1882.7,155.0 L1885.1,154.3 L1887.6,153.7 L1890.0,153.0 L1892.4,152.4 L1894.9,151.7 L1897.3,151.1 L1899.8,150.5 L1902.2,150.0 L1904.7,149.4 L1907.1,148.8 L1909.6,148.2 L1912.0,147.6 L1914.5,147.0 L1917.0,146.4 L1919.5,145.7 L1922.0,145.0 L1924.5,144.3 L1927.0,143.6 L1929.5,143.0 L1932.0,142.3 L1934.5,141.7 L1937.0,141.1 L1939.5,140.5 L1941.9,140.0 L1944.4,139.5 L1946.8,139.1 L1949.2,138.7 L1951.6,138.3 L1954.0,137.9 L1956.5,137.5 L1958.9,137.1 L1961.3,136.7 L1963.8,136.2 L1966.2,135.8 L1968.7,135.3 L1971.2,134.8 L1973.8,134.2 L1976.3,133.7 L1978.8,133.2 L1981.3,132.7 L1983.8,132.2 L1986.3,131.7 L1988.8,131.2 L1991.1,130.8 L1993.5,130.4 L1995.9,130.1 L1998.3,129.7 L2000.6,129.3 L2003.0,129.0 L2005.3,128.6 L2007.7,128.3 L2010.1,127.9 L2012.5,127.5 L2015.0,127.1 L2017.5,126.7 L2020.0,126.2 L2022.5,125.8 L2025.0,125.4 L2027.5,124.9 L2030.0,124.5 L2032.5,124.1 L2035.0,123.7 L2037.5,123.2 L2039.9,122.9 L2042.3,122.5 L2044.6,122.1 L2047.0,121.7 L2049.4,121.4 L2051.7,121.0 L2054.1,120.6 L2056.5,120.3 L2058.9,119.9 L2061.2,119.5 L2063.8,119.1 L2066.3,118.7 L2069.0,118.3 L2071.6,117.9 L2074.3,117.5 L2076.8,117.1 L2079.4,116.7 L2081.8,116.3 L2084.1,115.9 L2086.2,115.5 L2087.8,115.2 L2089.4,114.9 L2091.1,114.6 L2092.8,114.2 L2094.3,113.9 L2095.8,113.6 L2097.0,113.4 L2097.9,113.2 L2098.5,113.0 L2098.8,113.0" fill="none" stroke="#0000ff" stroke-width="8" stroke-linecap="round" stroke-linejoin="round" stroke-dasharray="19 15.5 0.01 15.5" stroke-dashoffset="15.03"/>
<path d="M423.6,555.2L424.9,558.8M436.1,589.1L437.9,592.4M456.5,620.4L458.5,623.6M475.3,650.4L477.2,653.6M493.7,684.0L495.3,687.5M507.4,718.9L508.6,722.6M517.1,756.4L517.9,760.1M522.8,792.6L523.2,796.4M526.9,830.1L527.1,833.9M528.6,868.1L528.9,871.9M531.2,904.6L531.3,908.4M531.9,942.1L532.1,945.9M534.2,978.1L534.3,981.9M534.2,1015.1L534.2,1018.9M534.2,1052.6L534.2,1056.4M534.3,1090.1L534.2,1093.9M533.8,1127.1L533.7,1130.9M533.8,1164.4L533.8,1168.2M533.8,1201.9L533.8,1205.7M533.8,1239.1L533.8,1242.9M538.7,941.9L538.8,938.1M540.4,905.9L540.6,902.1M542.4,869.6L542.6,865.9M543.7,830.9L543.8,827.1M544.8,793.9L545.2,790.1M551.5,757.6L552.5,753.9M563.1,721.3L564.4,717.7M576.3,688.2L577.7,684.8M591.7,653.7L593.3,650.3M607.3,620.0L608.7,616.5M620.6,583.8L621.9,580.2M633.1,548.3L634.4,544.7M645.6,512.0L646.9,508.5M658.3,477.8L659.7,474.2M671.7,444.2L673.3,440.8M686.1,412.9L687.9,409.6M704.4,381.6L706.6,378.4M723.3,356.5L725.7,353.5M746.2,330.1L748.8,327.4M771.6,303.8L774.4,301.2M801.0,278.7L804.0,276.3M832.9,256.0L836.1,254.0M864.6,237.9L867.9,236.1M899.5,222.0L903.0,220.5M932.0,208.8L935.5,207.2M967.0,192.7L970.5,191.3M1003.7,180.5L1007.3,179.5M1040.1,172.6L1043.9,172.4M1077.6,174.7L1081.4,174.3M1111.2,166.9L1114.8,165.6M1137.0,154.7L1140.5,153.3M1173.2,142.2L1176.8,141.3M1208.9,136.0L1212.6,135.5M1246.9,131.9L1250.6,131.6M1284.4,130.5L1288.1,130.5M1321.9,131.1L1325.6,131.4M1359.4,134.2L1363.1,134.8M1383.1,139.6L1386.9,140.4M1420.6,145.9L1424.4,146.6M1458.2,154.0L1461.8,155.0M1493.9,163.9L1497.6,165.1M1530.7,176.3L1534.3,177.7M1565.8,190.4L1569.2,192.1M1592.9,206.9L1596.1,209.1M1623.3,231.1L1626.7,232.9M1656.9,243.9L1660.6,245.1M1693.9,254.6L1697.6,254.4M1726.3,240.4L1729.7,238.6M1758.2,221.9L1761.8,220.6M1796.5,211.2L1800.0,212.8M1816.3,244.5L1817.7,248.0M1827.5,279.4L1828.5,283.1M1835.8,314.4L1836.7,318.1M1845.5,305.1L1846.0,308.9M1852.7,290.6L1853.3,294.4M1858.5,283.1L1859.0,286.9M1869.2,313.1L1869.8,316.9M1876.0,349.4L1876.5,353.1M1883.5,333.9L1884.0,337.6M1892.2,335.1L1892.8,338.9M1894.7,320.6L1895.3,324.4M1903.5,329.4L1904.0,333.1M1900.5,356.9L1901.0,360.6M1911.7,356.4L1912.3,360.1M1908.5,364.4L1909.0,368.1M1917.2,370.6L1917.8,374.4M1924.7,376.9L1925.3,380.6M1936.0,386.9L1936.5,390.6M1941.0,379.4L1941.5,383.1M1947.7,372.6L1948.3,376.4M1946.0,385.6L1946.5,389.4M1952.2,388.1L1952.8,391.9M1956.0,400.6L1956.5,404.4M1959.7,406.9L1960.3,410.6M1964.7,389.4L1965.3,393.1M1969.2,372.6L1969.8,376.4M1974.2,381.9L1974.8,385.6M1981.0,398.6L1981.5,402.4M1991.7,394.4L1992.3,398.1M1998.5,396.9L1999.0,400.6M2004.7,403.1L2005.3,406.9M2013.5,413.1L2014.0,416.9M2021.0,418.1L2021.5,421.9M2028.5,403.1L2029.0,406.9M2043.5,420.6L2044.0,424.4M2048.0,408.1L2048.5,411.9M2048.5,423.1L2049.0,426.9M2059.7,417.6L2060.3,421.4M2063.0,395.6L2063.5,399.4M2064.7,433.1L2065.3,436.9M2053.5,450.6L2054.0,454.4M2073.5,418.1L2074.0,421.9M2082.2,419.4L2082.8,423.1M2086.7,389.4L2087.3,393.1M2091.7,383.1L2092.3,386.9M2096.7,398.1L2097.3,401.9M2104.7,388.1L2105.3,391.9M2117.7,385.1L2118.3,388.9M2130.2,385.8L2130.8,389.6M2127.7,398.6L2128.3,402.4M2145.7,406.4L2146.3,410.2M2152.2,415.6L2152.8,419.4M2111.2,371.9L2111.3,368.1M2112.0,353.1L2112.0,349.4M2111.4,336.9L2111.1,333.1M2109.0,316.9L2108.5,313.1M2106.5,299.4L2106.0,295.6M2103.5,278.1L2103.0,274.4M2101.3,262.4L2100.7,258.6" fill="none" stroke="#808080" stroke-width="8.4" stroke-linecap="round"/>
<path d="M430.0,639.5L445.0,665.8M460.0,693.2L471.2,724.5M478.8,754.5L483.8,785.8M489.5,815.8L490.5,849.5M491.5,879.0L492.0,910.0M492.3,941.5L492.8,972.8M493.0,1004.0L493.2,1035.0M493.4,1066.5L493.6,1097.8M493.8,1129.0L494.3,1159.0M494.6,1191.5L495.0,1221.5M495.2,1254.0L495.5,1283.8M495.8,1316.2L496.5,1345.0M496.8,1380.0L497.0,1407.5M497.0,1441.2L497.0,1470.0M498.2,1470.0L498.2,1441.2M498.2,1407.5L498.6,1380.0M498.8,1345.0L501.0,1316.0M501.3,1284.0L502.5,1253.8M502.7,1221.2L503.0,1189.0M503.3,1156.5L503.8,1125.0M504.0,1094.0L505.0,1064.0M505.3,1032.8L506.2,1001.5M506.5,970.0L507.0,937.8M507.5,907.8L512.3,875.0M513.0,844.5L513.8,813.2M515.0,783.2L515.0,749.5M523.0,727.0L533.8,695.8M538.8,666.5L550.0,637.0M563.8,608.2L576.2,579.5M592.5,553.2L610.0,525.8M630.0,503.2L652.5,480.8M676.2,463.2L700.0,445.0M726.2,432.5L750.0,417.0M777.5,403.8L805.0,388.8M831.2,377.5L861.2,365.0M888.8,354.5L917.5,343.8M947.5,333.8L978.8,323.8M1007.5,315.0L1040.0,307.0M1070.0,300.0L1102.5,293.8M1132.5,287.0L1163.8,281.2M1193.8,276.2L1224.5,271.2M1255.0,266.2L1287.5,262.0M1317.5,257.5L1350.0,253.8M1381.2,250.0L1411.2,246.2M1450.0,242.5L1482.5,240.0M1512.5,236.2L1545.0,233.8M1575.0,231.2L1606.2,228.8" fill="none" stroke="#fff" stroke-width="2.8" stroke-linecap="butt"/>
<path d="M416.9,616.9L428.6,637.1M446.3,668.2L458.7,690.8M471.9,727.2L478.1,751.8M484.3,788.5L489.0,813.0M490.6,852.3L491.4,876.2M492.0,912.8L492.3,938.7M492.8,975.5L493.0,1001.2M493.2,1037.8L493.4,1063.7M493.6,1100.5L493.8,1126.2M494.3,1161.8L494.6,1188.7M495.0,1224.3L495.2,1251.2M495.5,1286.5L495.8,1313.5M496.5,1347.8L496.8,1377.2M497.0,1410.3L497.0,1438.5M497.0,1472.8L497.0,1502.2M498.2,1502.2L498.2,1472.8M498.2,1438.5L498.2,1410.3M498.6,1377.2L498.8,1347.8M501.0,1313.2L501.3,1286.8M502.5,1251.0L502.7,1224.0M503.0,1186.2L503.3,1159.3M503.8,1122.2L504.0,1096.8M505.0,1061.2L505.3,1035.5M506.3,998.7L506.5,972.8M507.0,935.0L507.5,910.5M512.4,872.2L512.9,847.3M513.9,810.5L514.9,786.0M515.9,746.9L522.1,729.6M534.2,693.0L538.3,669.3M551.2,634.5L562.5,610.8M577.7,577.1L591.0,555.6M611.9,523.7L628.1,505.3M654.8,479.1L674.0,464.9M702.5,443.8L723.7,433.7M752.5,415.8L775.0,405.0M807.6,387.6L828.7,378.6M863.9,364.0L886.1,355.5M920.2,342.9L944.8,334.6M981.4,322.9L1004.8,315.8M1042.7,306.4L1067.3,300.6M1105.2,293.1L1129.8,287.6M1166.5,280.8L1191.0,276.7M1227.3,270.8L1252.2,266.7M1290.3,261.6L1314.7,257.9M1352.8,253.4L1378.5,250.3M1414.0,246.0L1447.2,242.8M1485.3,239.7L1509.7,236.6M1547.8,233.5L1572.2,231.5M1609.0,228.5L1636.0,226.5" fill="none" stroke="#00cbcb" stroke-width="8.3" stroke-linecap="round"/>
</g>
<g stroke="#000" stroke-width="6.2" fill="none" stroke-linecap="butt">
<path d="M414.6,34.1 V1538.8999999999999 M2328.0,34.1 V1525.5 M401.4,37.2 H2331.1 M388,1513.1 H2331.1"/>
<path d="M401.4,1459.6H414.6M401.4,1428.3H414.6M401.4,1406.1H414.6M401.4,1388.8H414.6M401.4,1374.7H414.6M401.4,1362.8H414.6M401.4,1352.5H414.6M401.4,1343.4H414.6M388,1335.3H414.6M401.4,1281.8H414.6M401.4,1250.5H414.6M401.4,1228.3H414.6M401.4,1211.0H414.6M401.4,1196.9H414.6M401.4,1185.0H414.6M401.4,1174.7H414.6M401.4,1165.6H414.6M388,1157.5H414.6M401.4,1104.0H414.6M401.4,1072.7H414.6M401.4,1050.5H414.6M401.4,1033.2H414.6M401.4,1019.2H414.6M401.4,1007.2H414.6M401.4,996.9H414.6M401.4,987.8H414.6M388,979.7H414.6M401.4,926.2H414.6M401.4,894.9H414.6M401.4,872.7H414.6M401.4,855.4H414.6M401.4,841.4H414.6M401.4,829.5H414.6M401.4,819.1H414.6M401.4,810.0H414.6M388,801.9H414.6M401.4,748.4H414.6M401.4,717.1H414.6M401.4,694.9H414.6M401.4,677.6H414.6M401.4,663.6H414.6M401.4,651.7H414.6M401.4,641.3H414.6M401.4,632.2H414.6M388,624.1H414.6M401.4,570.6H414.6M401.4,539.3H414.6M401.4,517.1H414.6M401.4,499.8H414.6M401.4,485.8H414.6M401.4,473.9H414.6M401.4,463.5H414.6M401.4,454.5H414.6M388,446.3H414.6M401.4,392.8H414.6M401.4,361.5H414.6M401.4,339.3H414.6M401.4,322.0H414.6M401.4,308.0H414.6M401.4,296.1H414.6M401.4,285.7H414.6M401.4,276.7H414.6M388,268.5H414.6M401.4,215.0H414.6M401.4,183.7H414.6M401.4,161.5H414.6M401.4,144.2H414.6M401.4,130.2H414.6M401.4,118.3H414.6M401.4,108.0H414.6M401.4,98.9H414.6M388,90.7H414.6"/>
<path d="M561.8,1513.1V1525.5M709.0,1513.1V1538.8999999999999M856.2,1513.1V1525.5M1003.3,1513.1V1538.8999999999999M1150.5,1513.1V1525.5M1297.7,1513.1V1538.8999999999999M1444.9,1513.1V1525.5M1592.1,1513.1V1538.8999999999999M1739.3,1513.1V1525.5M1886.4,1513.1V1538.8999999999999M2033.6,1513.1V1525.5M2180.8,1513.1V1538.8999999999999"/>
</g>
<rect x="495" y="1509.8999999999999" width="4" height="4.5" fill="#fff"/>
<g font-family="Liberation Serif, Times New Roman, serif" font-weight="bold" fill="#000">
<text x="193" y="132.3" font-size="112.2">10</text>
<text x="306" y="86.7" font-size="76">-1</text>
<text x="193" y="310.1" font-size="112.2">10</text>
<text x="306" y="264.5" font-size="76">-2</text>
<text x="193" y="487.9" font-size="112.2">10</text>
<text x="306" y="442.3" font-size="76">-3</text>
<text x="193" y="665.7" font-size="112.2">10</text>
<text x="306" y="620.1" font-size="76">-4</text>
<text x="193" y="843.5" font-size="112.2">10</text>
<text x="306" y="797.9" font-size="76">-5</text>
<text x="193" y="1021.3" font-size="112.2">10</text>
<text x="306" y="975.7" font-size="76">-6</text>
<text x="193" y="1199.1" font-size="112.2">10</text>
<text x="306" y="1153.5" font-size="76">-7</text>
<text x="193" y="1376.9" font-size="112.2">10</text>
<text x="306" y="1331.3" font-size="76">-8</text>
<text x="193" y="1554.7" font-size="112.2">10</text>
<text x="306" y="1509.1" font-size="76">-9</text>
<text x="413.8" y="1623.9" font-size="88" text-anchor="middle">-1.2</text>
<text x="708.2" y="1623.9" font-size="88" text-anchor="middle">-1.0</text>
<text x="1002.5" y="1623.9" font-size="88" text-anchor="middle">-0.8</text>
<text x="1296.9" y="1623.9" font-size="88" text-anchor="middle">-0.6</text>
<text x="1591.3" y="1623.9" font-size="88" text-anchor="middle">-0.4</text>
<text x="1885.6" y="1623.9" font-size="88" text-anchor="middle">-0.2</text>
<text x="2180.0" y="1623.9" font-size="88" text-anchor="middle">0.0</text>
<text x="1013" y="1747.6" font-size="112.4">Potential, V</text>
<text transform="translate(115,1245) rotate(-90)" font-size="110.55">Current (A) per cm^2</text>
</g>
<g font-family="Liberation Serif, Times New Roman, serif" font-weight="bold" font-size="80">
<text x="1304.5" y="625.5" fill="#000000">Zn 1</text>
<text x="1243.5" y="338.8" fill="#55bbff">Zn 2</text>
<text x="1554.7" y="712" fill="#ff0000">ZnH 1</text>
<text x="1562.7" y="793.9" fill="#00ff00">ZnS 1</text>
<text x="2100.5" y="152.2" fill="#0000ff">ZnH 2</text>
<text x="2104" y="492" fill="#808080">ZnS 2</text>
</g>
</svg>
</body></html>
